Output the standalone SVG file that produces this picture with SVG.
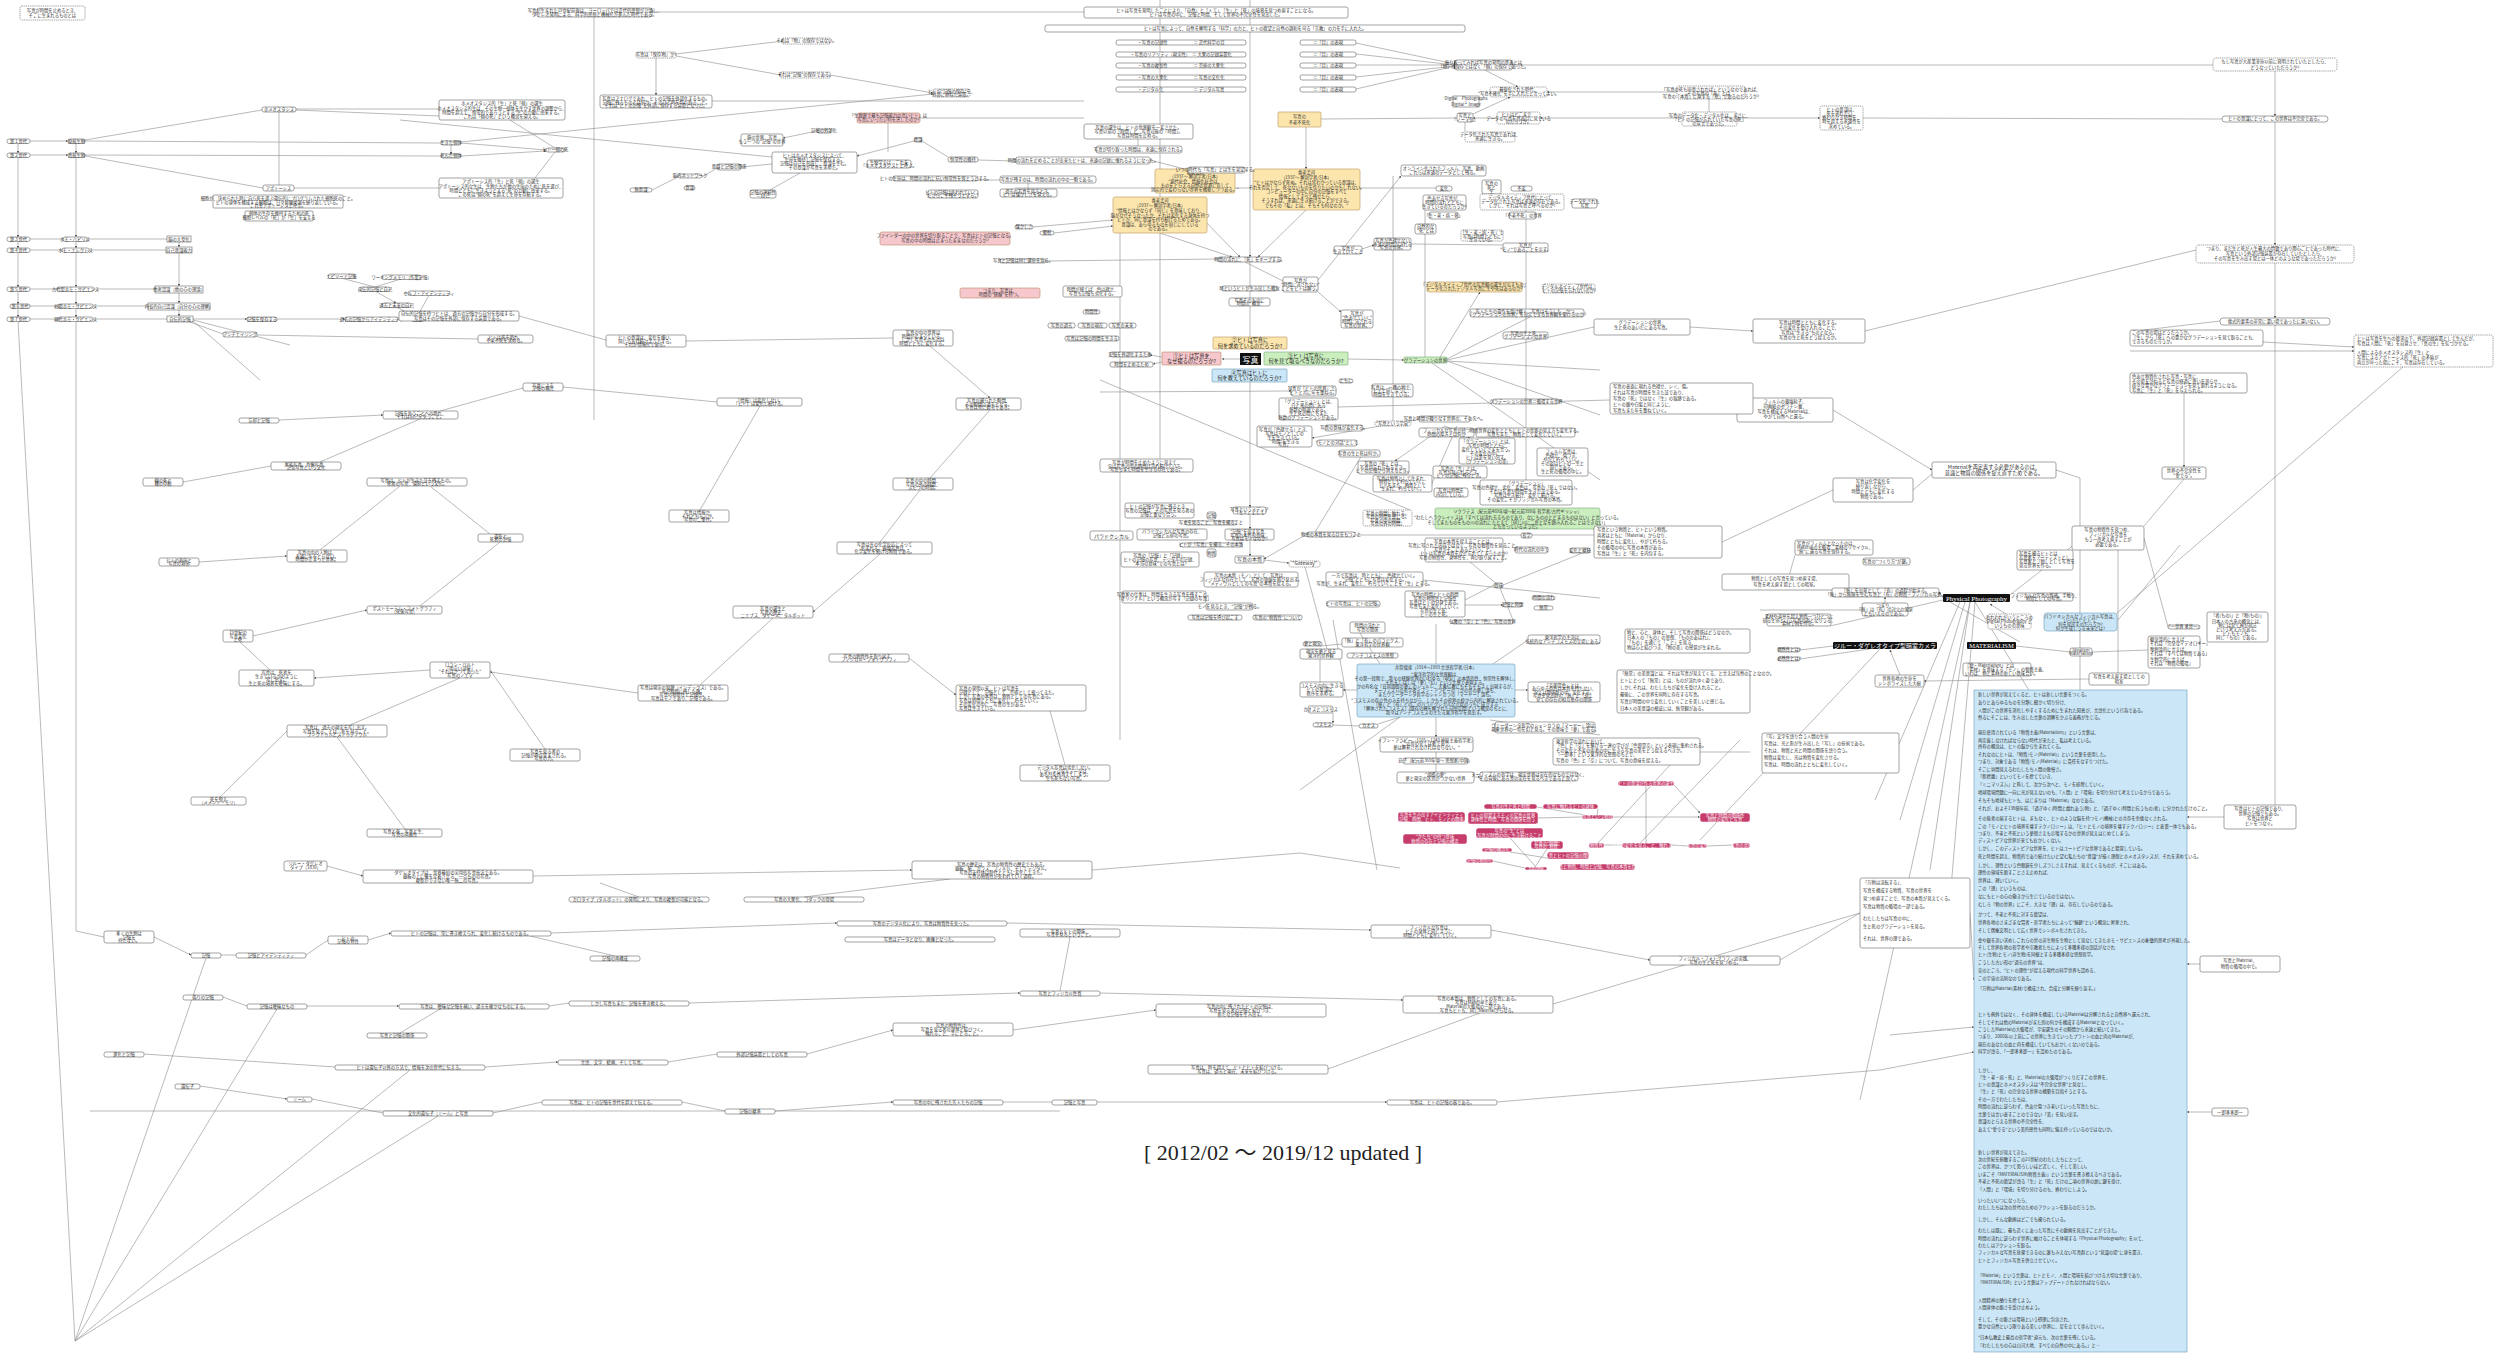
<svg xmlns="http://www.w3.org/2000/svg" width="2500" height="1361" viewBox="0 0 2500 1361">
<defs>
<marker id="a" viewBox="0 0 6 6" refX="5.5" refY="3" markerWidth="4" markerHeight="4" orient="auto"><path d="M0,0L6,3L0,6z" fill="#555"/></marker>
<style>
.b{fill:#fff;stroke:#666;stroke-width:.6}
.d{fill:#fff;stroke:#666;stroke-width:.6;stroke-dasharray:1.2 .7}
.pk{fill:#f6c8ce;stroke:#b86;stroke-width:.6}
.yl{fill:#fce6ad;stroke:#b9955a;stroke-width:.6}
.gr{fill:#cbeebf;stroke:#7a7;stroke-width:.6}
.bl{fill:#cbe7f7;stroke:#6c9bb8;stroke-width:.6}
.mg{fill:#c63d6c;stroke:#fff;stroke-width:.5}
.bk{fill:#111}
text{font-family:"Noto Sans CJK JP","Noto Sans",sans-serif;font-size:4.3px;fill:#333;text-anchor:middle}
.w{fill:#fff}
.big{font-family:"Liberation Serif","Noto Sans CJK JP",serif;font-size:8px;fill:#fff}
.q{font-size:5.2px;fill:#222}
.l{text-anchor:start}
#c line{stroke:#8c8c8c;stroke-width:.6;fill:none}
.ar{marker-end:url(#a)}
</style>
</defs>
<rect width="2500" height="1361" fill="#fff"/>

<g id="c">
<line x1="30" y1="141" x2="68" y2="141" class="ar"/><line x1="30" y1="155" x2="68" y2="155" class="ar"/>
<line x1="18" y1="143" x2="18" y2="153" class="ar"/><line x1="76" y1="143" x2="76" y2="153" class="ar"/>
<line x1="18" y1="157" x2="18" y2="237" class="ar"/><line x1="76" y1="157" x2="76" y2="237" class="ar"/>
<line x1="85" y1="141" x2="441" y2="143"/><line x1="85" y1="155" x2="441" y2="156"/>
<line x1="85" y1="140" x2="262" y2="110"/><line x1="85" y1="156" x2="263" y2="188"/>
<line x1="296" y1="109" x2="439" y2="109"/><line x1="296" y1="110" x2="439" y2="116"/><line x1="294" y1="188" x2="439" y2="188"/>
<line x1="279" y1="112" x2="279" y2="185"/>
<line x1="30" y1="239" x2="63" y2="239"/><line x1="87" y1="239" x2="167" y2="239"/>
<line x1="30" y1="250" x2="62" y2="250"/><line x1="89" y1="250" x2="166" y2="250"/>
<line x1="30" y1="289" x2="57" y2="289"/><line x1="94" y1="289" x2="155" y2="289"/>
<line x1="30" y1="306" x2="58" y2="306"/><line x1="93" y1="306" x2="148" y2="306"/>
<line x1="30" y1="319" x2="58" y2="319"/><line x1="93" y1="319" x2="167" y2="319"/>
<line x1="18" y1="241" x2="18" y2="248" class="ar"/><line x1="18" y1="252" x2="18" y2="287" class="ar"/><line x1="18" y1="291" x2="18" y2="304" class="ar"/><line x1="18" y1="308" x2="18" y2="317" class="ar"/>
<line x1="76" y1="241" x2="76" y2="248" class="ar"/><line x1="76" y1="252" x2="76" y2="287" class="ar"/><line x1="76" y1="291" x2="76" y2="304" class="ar"/><line x1="76" y1="308" x2="76" y2="317" class="ar"/>
<line x1="179" y1="242" x2="179" y2="247" class="ar"/><line x1="179" y1="253" x2="179" y2="286" class="ar"/><line x1="179" y1="293" x2="179" y2="303" class="ar"/><line x1="179" y1="310" x2="179" y2="316" class="ar"/>
<line x1="18" y1="321" x2="75" y2="1341"/><line x1="76" y1="321" x2="76" y2="931"/>
<line x1="193" y1="319" x2="247" y2="319" class="ar"/><line x1="277" y1="319" x2="345" y2="319" class="ar"/><line x1="398" y1="319" x2="411" y2="319" class="ar"/>
<line x1="341" y1="278" x2="375" y2="287"/><line x1="401" y1="279" x2="375" y2="287"/>
<line x1="375" y1="291" x2="396" y2="303" class="ar"/><line x1="396" y1="307" x2="417" y2="317" class="ar"/><line x1="429" y1="295" x2="417" y2="317"/>
<line x1="193" y1="320" x2="290" y2="345"/><line x1="190" y1="322" x2="223" y2="334"/><line x1="193" y1="321" x2="260" y2="380"/>
<line x1="461" y1="143" x2="546" y2="150" class="ar"/><line x1="461" y1="156" x2="546" y2="151" class="ar"/><line x1="451" y1="145" x2="451" y2="154" class="ar"/>
<line x1="510" y1="120" x2="555" y2="148"/><line x1="535" y1="178" x2="555" y2="152"/>
<line x1="461" y1="142" x2="933" y2="94" class="ar"/>
<line x1="400" y1="120" x2="772" y2="157"/>
<line x1="594" y1="16" x2="594" y2="420"/>
<line x1="652" y1="12" x2="1084" y2="12"/>
<line x1="676" y1="54" x2="783" y2="41" class="ar"/><line x1="676" y1="56" x2="781" y2="75" class="ar"/>
<line x1="656" y1="58" x2="656" y2="95" class="ar"/>
<line x1="830" y1="75" x2="933" y2="93" class="ar"/>
<line x1="712" y1="101" x2="1084" y2="101"/>
<line x1="920" y1="118" x2="1084" y2="118"/>
<line x1="888" y1="123" x2="888" y2="152"/>
<line x1="817" y1="131" x2="783" y2="138" class="ar"/>
<line x1="914" y1="141" x2="857" y2="156" class="ar"/><line x1="922" y1="141" x2="948" y2="157"/>
<line x1="800" y1="173" x2="770" y2="190"/><line x1="741" y1="167" x2="772" y2="164"/>
<line x1="702" y1="177" x2="717" y2="168"/><line x1="652" y1="190" x2="678" y2="177"/>
<line x1="978" y1="160" x2="1016" y2="161"/><line x1="978" y1="180" x2="1000" y2="180"/>
<line x1="1150" y1="160" x2="1188" y2="170"/><line x1="1138" y1="139" x2="1138" y2="146"/>
<line x1="1028" y1="189" x2="1028" y2="183"/>
<line x1="1033" y1="227" x2="1113" y2="220" class="ar"/><line x1="1054" y1="233" x2="1113" y2="226" class="ar"/>
<line x1="1046" y1="261" x2="1218" y2="259"/>
<line x1="1120" y1="233" x2="1120" y2="740"/>
<line x1="1195" y1="211" x2="1240" y2="257" class="ar"/><line x1="1306" y1="210" x2="1258" y2="257" class="ar"/><line x1="1160" y1="233" x2="1232" y2="257" class="ar"/>
<line x1="1306" y1="127" x2="1306" y2="169" class="ar"/>
<line x1="1250" y1="0" x2="1250" y2="257" class="ar"/><line x1="1250" y1="262" x2="1250" y2="286"/><line x1="1250" y1="291" x2="1250" y2="298"/><line x1="1250" y1="306" x2="1250" y2="337"/>
<line x1="1250" y1="382" x2="1250" y2="507" class="ar"/><line x1="1250" y1="514" x2="1250" y2="529" class="ar"/><line x1="1250" y1="540" x2="1250" y2="556" class="ar"/>
<line x1="1240" y1="359" x2="1222" y2="359" class="ar"/>
<line x1="1162" y1="357" x2="1150" y2="355" class="ar"/><line x1="1162" y1="362" x2="1153" y2="364" class="ar"/>
<line x1="1348" y1="359" x2="1404" y2="360" class="ar"/>
<line x1="1283" y1="281" x2="1245" y2="262"/>
<line x1="1318" y1="280" x2="1401" y2="176" class="ar"/><line x1="1318" y1="292" x2="1341" y2="312" class="ar"/>
<line x1="1362" y1="249" x2="1374" y2="245" class="ar"/><line x1="1411" y1="244" x2="1503" y2="245"/>
<line x1="1160" y1="0" x2="1160" y2="459"/>
<line x1="1356" y1="43" x2="1455" y2="64"/><line x1="1356" y1="54" x2="1455" y2="65"/><line x1="1356" y1="65" x2="1455" y2="65"/><line x1="1356" y1="77" x2="1455" y2="66"/><line x1="1356" y1="89" x2="1455" y2="66"/>
<line x1="1455" y1="61" x2="1455" y2="69" style="stroke:#111;stroke-width:1.6"/>
<line x1="1512" y1="65" x2="2213" y2="65"/>
<line x1="1483" y1="69" x2="1518" y2="87" class="ar"/>
<line x1="1677" y1="92" x2="1547" y2="92" class="ar"/><line x1="1709" y1="99" x2="1709" y2="112"/>
<line x1="1682" y1="118" x2="1540" y2="118" class="ar"/><line x1="1737" y1="118" x2="1820" y2="118" class="ar"/>
<line x1="1863" y1="118" x2="2222" y2="119"/>
<line x1="1497" y1="118" x2="1473" y2="118" class="ar"/><line x1="1473" y1="114" x2="1510" y2="97" class="ar"/>
<line x1="1321" y1="119" x2="1457" y2="118"/>
<line x1="1465" y1="122" x2="1465" y2="132"/>
<line x1="1393" y1="176" x2="1393" y2="421"/>
<line x1="1425" y1="210" x2="1425" y2="357"/>
<line x1="1526" y1="210" x2="1526" y2="480"/>
<line x1="1436" y1="188" x2="1015" y2="188"/>
<line x1="1447" y1="361" x2="1600" y2="370"/><line x1="1447" y1="359" x2="1530" y2="317"/>
<line x1="1440" y1="357" x2="1480" y2="292" class="ar"/><line x1="1432" y1="363" x2="1600" y2="480"/><line x1="1447" y1="361" x2="1600" y2="415"/>
<line x1="1447" y1="360" x2="1594" y2="327"/>
<line x1="1100" y1="380" x2="1410" y2="510"/>
<line x1="1100" y1="392" x2="1291" y2="391" class="ar"/>
<line x1="1338" y1="407" x2="1610" y2="400"/>
<line x1="1420" y1="419" x2="1312" y2="438" class="ar"/>
<line x1="1457" y1="426" x2="1430" y2="488" class="ar"/><line x1="1445" y1="426" x2="1395" y2="461" class="ar"/><line x1="1445" y1="426" x2="1470" y2="438" class="ar"/>
<line x1="1312" y1="537" x2="1365" y2="450"/><line x1="1307" y1="534" x2="1264" y2="559" class="ar"/>
<line x1="1355" y1="535" x2="1600" y2="535"/>
<line x1="1264" y1="560" x2="1289" y2="563" class="ar"/>
<line x1="1305" y1="567" x2="1330" y2="660"/>
<line x1="1494" y1="585" x2="1465" y2="600"/><line x1="1503" y1="585" x2="1590" y2="550"/><line x1="1500" y1="588" x2="1513" y2="620"/><line x1="1498" y1="585" x2="1470" y2="562"/>
<line x1="1423" y1="580" x2="1600" y2="598"/><line x1="1465" y1="605" x2="1503" y2="605" class="ar"/>
<line x1="1943" y1="598" x2="1939" y2="592" class="ar"/>
<line x1="1960" y1="602" x2="1875" y2="800"/><line x1="1965" y1="602" x2="1900" y2="820"/><line x1="1970" y1="602" x2="1930" y2="870"/><line x1="1975" y1="602" x2="1950" y2="900"/><line x1="1970" y1="602" x2="1860" y2="1100"/>
<line x1="1975" y1="602" x2="2030" y2="692"/>
<line x1="2010" y1="595" x2="2080" y2="540"/>
<line x1="2006" y1="614" x2="1990" y2="604" class="ar"/>
<line x1="1943" y1="600" x2="1830" y2="626"/><line x1="1950" y1="602" x2="2020" y2="642"/>
<line x1="1885" y1="603" x2="1885" y2="597" class="ar"/><line x1="1862" y1="610" x2="1760" y2="610"/>
<line x1="1833" y1="646" x2="1800" y2="650"/><line x1="1870" y1="649" x2="1800" y2="659"/>
<line x1="1900" y1="675" x2="1890" y2="650" class="ar"/>
<line x1="1880" y1="649" x2="1700" y2="840"/>
<line x1="2016" y1="646" x2="2070" y2="652"/><line x1="2092" y1="652" x2="2148" y2="650"/>
<line x1="2089" y1="679" x2="1924" y2="681" class="ar"/>
<line x1="2080" y1="631" x2="2080" y2="692" class="ar"/>
<line x1="2118" y1="673" x2="2118" y2="550"/><line x1="2080" y1="613" x2="2080" y2="478"/>
<line x1="2118" y1="620" x2="2180" y2="545"/>
<line x1="2184" y1="393" x2="2184" y2="467" class="ar"/><line x1="2184" y1="479" x2="2144" y2="526"/>
<line x1="2275" y1="71" x2="2275" y2="116" class="ar"/><line x1="2275" y1="122" x2="2275" y2="245" class="ar"/><line x1="2275" y1="263" x2="2275" y2="318" class="ar"/><line x1="2275" y1="325" x2="2275" y2="805"/>
<line x1="2263" y1="342" x2="2354" y2="347" class="ar"/><line x1="2130" y1="351" x2="2354" y2="351" class="ar"/>
<line x1="2403" y1="367" x2="2117" y2="613"/>
<line x1="2196" y1="250" x2="1865" y2="331"/>
<line x1="2220" y1="321" x2="2144" y2="330"/>
<line x1="1970" y1="913" x2="1974" y2="980" class="ar"/>
<line x1="1890" y1="1035" x2="1974" y2="1027" class="ar"/><line x1="1880" y1="1070" x2="1974" y2="1052" class="ar"/>
<line x1="1646" y1="786" x2="1646" y2="843"/><line x1="1674" y1="785" x2="1700" y2="813" class="ar"/><line x1="1613" y1="817" x2="1700" y2="817" class="ar"/>
<line x1="1598" y1="809" x2="1597" y2="815"/><line x1="1538" y1="818" x2="1582" y2="817"/><line x1="1537" y1="807" x2="1585" y2="815"/>
<line x1="1604" y1="845" x2="1622" y2="845"/><line x1="1671" y1="845" x2="1688" y2="846"/>
<line x1="1598" y1="843" x2="1670" y2="765"/><line x1="1640" y1="843" x2="1740" y2="740"/><line x1="1707" y1="846" x2="1733" y2="845"/>
<line x1="1510" y1="852" x2="1547" y2="858"/><line x1="1547" y1="849" x2="1535" y2="867"/><line x1="1510" y1="838" x2="1536" y2="867"/><line x1="1493" y1="861" x2="1525" y2="868"/>
<line x1="1400" y1="717" x2="1300" y2="790"/><line x1="1333" y1="620" x2="1377" y2="870"/><line x1="1300" y1="853" x2="1400" y2="868"/>
<line x1="1436" y1="717" x2="1436" y2="737" class="ar"/>
<line x1="1515" y1="690" x2="1528" y2="690" class="ar"/><line x1="1357" y1="690" x2="1343" y2="690" class="ar"/>
<line x1="1493" y1="664" x2="1528" y2="640"/><line x1="1436" y1="664" x2="1436" y2="624"/><line x1="1380" y1="664" x2="1360" y2="633"/>
<line x1="1490" y1="720" x2="1600" y2="735"/>
<line x1="1436" y1="752" x2="1436" y2="758"/><line x1="1436" y1="764" x2="1436" y2="772"/>
<line x1="1474" y1="777" x2="1480" y2="777" class="ar"/>
<line x1="1700" y1="752" x2="1750" y2="752"/>
<line x1="1333" y1="713" x2="1333" y2="723" class="ar"/><line x1="1333" y1="725" x2="1359" y2="726"/><line x1="1378" y1="724" x2="1400" y2="717"/>
<line x1="1320" y1="646" x2="1342" y2="644"/><line x1="1320" y1="659" x2="1320" y2="682"/>
<line x1="519" y1="316" x2="606" y2="340"/><line x1="478" y1="339" x2="257" y2="335"/>
<line x1="440" y1="411" x2="523" y2="388"/><line x1="279" y1="420" x2="383" y2="415" class="ar"/>
<line x1="320" y1="462" x2="420" y2="419"/><line x1="430" y1="486" x2="490" y2="534"/>
<line x1="320" y1="550" x2="400" y2="486"/><line x1="420" y1="606" x2="500" y2="542"/>
<line x1="253" y1="636" x2="367" y2="610" class="ar"/><line x1="270" y1="670" x2="240" y2="642"/>
<line x1="430" y1="670" x2="314" y2="678" class="ar"/><line x1="350" y1="725" x2="460" y2="678"/>
<line x1="545" y1="749" x2="490" y2="670"/><line x1="638" y1="693" x2="490" y2="672" class="ar"/>
<line x1="773" y1="618" x2="700" y2="685"/><line x1="880" y1="554" x2="813" y2="612" class="ar"/>
<line x1="920" y1="490" x2="880" y2="542"/><line x1="990" y1="410" x2="930" y2="478"/>
<line x1="930" y1="346" x2="990" y2="398" class="ar"/><line x1="686" y1="341" x2="893" y2="338"/>
<line x1="717" y1="402" x2="563" y2="387"/><line x1="700" y1="510" x2="760" y2="406"/>
<line x1="909" y1="658" x2="956" y2="695" class="ar"/><line x1="1065" y1="765" x2="1050" y2="711"/>
<line x1="199" y1="562" x2="287" y2="556" class="ar"/><line x1="183" y1="482" x2="271" y2="466"/>
<line x1="405" y1="829" x2="337" y2="737"/><line x1="220" y1="797" x2="287" y2="731"/>
<line x1="75" y1="1341" x2="206" y2="958"/><line x1="75" y1="1341" x2="277" y2="1009"/><line x1="75" y1="1341" x2="438" y2="1116"/><line x1="75" y1="1341" x2="410" y2="1070"/>
<line x1="76" y1="931" x2="104" y2="937"/><line x1="154" y1="937" x2="191" y2="955" class="ar"/>
<line x1="327" y1="866" x2="363" y2="876" class="ar"/><line x1="533" y1="876" x2="912" y2="870" class="ar"/>
<line x1="639" y1="897" x2="600" y2="883"/><line x1="804" y1="897" x2="950" y2="879"/>
<line x1="221" y1="955" x2="236" y2="955"/><line x1="306" y1="955" x2="328" y2="940"/><line x1="368" y1="940" x2="391" y2="933" class="ar"/>
<line x1="551" y1="933" x2="837" y2="923" class="ar"/><line x1="615" y1="956" x2="530" y2="936"/>
<line x1="223" y1="997" x2="247" y2="1006"/><line x1="307" y1="1006" x2="399" y2="1006" class="ar"/><line x1="549" y1="1006" x2="569" y2="1003"/>
<line x1="689" y1="1003" x2="1020" y2="993" class="ar"/><line x1="400" y1="1033" x2="440" y2="1009"/>
<line x1="144" y1="1054" x2="335" y2="1067"/><line x1="485" y1="1067" x2="558" y2="1062" class="ar"/><line x1="668" y1="1062" x2="717" y2="1054"/>
<line x1="807" y1="1054" x2="893" y2="1030" class="ar"/><line x1="1013" y1="1030" x2="1156" y2="1010" class="ar"/>
<line x1="200" y1="1086" x2="287" y2="1099" class="ar"/><line x1="312" y1="1099" x2="383" y2="1113"/>
<line x1="493" y1="1113" x2="542" y2="1102"/><line x1="682" y1="1102" x2="725" y2="1111"/><line x1="775" y1="1111" x2="893" y2="1102" class="ar"/>
<line x1="1003" y1="1102" x2="1052" y2="1102"/><line x1="1097" y1="1102" x2="1387" y2="1102" class="ar"/>
<line x1="90" y1="1111" x2="1060" y2="1111"/>
<line x1="1007" y1="923" x2="1371" y2="930" class="ar"/><line x1="1092" y1="870" x2="1300" y2="853"/>
<line x1="1070" y1="937" x2="1060" y2="991"/><line x1="1100" y1="993" x2="1403" y2="1000" class="ar"/>
<line x1="1328" y1="1069" x2="1480" y2="1013"/><line x1="1553" y1="1004" x2="1860" y2="913"/>
<line x1="1491" y1="930" x2="1650" y2="960" class="ar"/><line x1="1780" y1="960" x2="1860" y2="913"/>
<line x1="1497" y1="1102" x2="1880" y2="1070"/>
<line x1="1690" y1="327" x2="1753" y2="331" class="ar"/><line x1="1681" y1="398" x2="1737" y2="410"/>
<line x1="1833" y1="410" x2="1932" y2="470" class="ar"/><line x1="1722" y1="542" x2="1833" y2="490"/>
<line x1="1785" y1="590" x2="1795" y2="555"/><line x1="1913" y1="490" x2="1932" y2="474"/>
<line x1="2056" y1="470" x2="2080" y2="478"/><line x1="2144" y1="538" x2="2168" y2="627"/>
<line x1="2224" y1="817" x2="2187" y2="817" class="ar"/><line x1="2200" y1="964" x2="2187" y2="964" class="ar"/><line x1="2212" y1="1112" x2="2187" y2="1112" class="ar"/>
</g>

<g id="n_left">
<g id="L1a"><rect class="b" x="7" y="139" width="23" height="4.5" rx="2"/><text x="18.5" y="142.6">第１世代</text></g>
<g id="L1b"><rect class="b" x="7" y="153" width="23" height="4.5" rx="2"/><text x="18.5" y="156.6">第２世代</text></g>
<g id="L1c"><rect class="b" x="7" y="237" width="23" height="4.5" rx="2"/><text x="18.5" y="240.6">第３世代</text></g>
<g id="L1d"><rect class="b" x="7" y="248" width="23" height="4.5" rx="2"/><text x="18.5" y="251.6">第４世代</text></g>
<g id="L1e"><rect class="b" x="7" y="287" width="23" height="4.5" rx="2"/><text x="18.5" y="290.6">第５世代</text></g>
<g id="L1f"><rect class="b" x="10" y="304" width="20" height="4.5" rx="2"/><text x="20" y="307.6">第６世代</text></g>
<g id="L1g"><rect class="b" x="7" y="317" width="23" height="4.5" rx="2"/><text x="18.5" y="320.6">第７世代</text></g>
<g id="L2a"><rect class="b" x="68" y="139" width="17" height="4.5" rx="2"/><text x="76.5" y="142.6">原核生物</text></g>
<g id="L2b"><rect class="b" x="68" y="153" width="17" height="4.5" rx="2"/><text x="76.5" y="156.6">真核生物</text></g>
<g id="L2c"><rect class="b" x="63" y="237" width="24" height="4.5" rx="2"/><text x="75" y="240.6">ホモ・ハビリス</text></g>
<g id="L2d"><rect class="b" x="62" y="248" width="27" height="4.5" rx="2"/><text x="75.5" y="251.6">ホモ・エレクトス</text></g>
<g id="L2e"><rect class="b" x="57" y="287" width="37" height="4.5" rx="2"/><text x="75.5" y="290.6">古代型ホモ・サピエンス</text></g>
<g id="L2f"><rect class="b" x="58" y="304" width="35" height="4.5" rx="2"/><text x="75.5" y="307.6">初期ホモ・サピエンス</text></g>
<g id="L2g"><rect class="b" x="58" y="317" width="35" height="4.5" rx="2"/><text x="75.5" y="320.6">現代ホモ・サピエンス</text></g>
<g id="L3a"><rect class="b" x="167" y="236" width="24" height="6"/><text x="179" y="240.6">脳の大型化</text></g>
<g id="L3b"><rect class="b" x="166" y="247" width="26" height="6"/><text x="179" y="251.6">自己意識能力</text></g>
<g id="L3c"><rect class="b" x="155" y="286" width="48" height="7"/><text x="179" y="291">他者認識（他の心の理論）</text></g>
<g id="L3d"><rect class="b" x="148" y="303" width="62" height="7"/><text x="179" y="308">内省的自己認識（自分の心の理解）</text></g>
<g id="L3e"><rect class="b" x="167" y="316" width="26" height="6"/><text x="180" y="320.5">自伝的記憶</text></g>
<g id="L4"><rect class="b" x="247" y="317" width="30" height="4.5" rx="2"/><text x="262" y="320.6">記憶を保存する</text></g>
<g id="L5"><rect class="b" x="345" y="317" width="53" height="4.5" rx="2"/><text x="371.5" y="320.6">過去の記憶からアイデンティティ</text></g>
<g id="L6"><rect class="b" x="411" y="317" width="13" height="4.5" rx="2"/><text x="417.5" y="320.6">自我</text></g>
<g id="L7"><rect class="b" x="328" y="274" width="27" height="4.5" rx="2"/><text x="341.5" y="277.6">エピソード記憶</text></g>
<g id="L8"><rect class="b" x="382" y="275" width="39" height="4.5" rx="2"/><text x="401.5" y="278.6">ワーキングメモリ（作業記憶）</text></g>
<g id="L9"><rect class="b" x="360" y="287" width="30" height="4.5" rx="2"/><text x="375" y="290.6">自伝的記憶と自己</text></g>
<g id="L10"><rect class="b" x="382" y="303" width="29" height="4.5" rx="2"/><text x="396.5" y="306.6">過去と未来の自己</text></g>
<g id="L11"><rect class="b" x="408" y="291" width="42" height="4.5" rx="2"/><text x="429" y="294.6">セルフ・アイデンティティ</text></g>
<g id="Lh"><rect class="b" x="262" y="107" width="34" height="5" rx="2"/><text x="279" y="111">ホメオスタシス</text></g>
<g id="La"><rect class="b" x="263" y="185" width="31" height="6" rx="2"/><text x="278.5" y="189.6">アポトーシス</text></g>
<g id="Lat1"><rect class="b" x="213" y="195" width="130" height="13" rx="1"/><text x="278" y="199.5">細胞が、決められた時に自ら死を選ぶ遺伝的にプログラムされた細胞死のこと。</text><text x="278" y="203.5">ヒトの身体を構成する細胞は、日々新陳代謝を繰り返している。</text><text x="278" y="207">これをアポトーシスと呼ぶ。</text></g>
<g id="Lat2"><rect class="b" x="245" y="211" width="68" height="10" rx="1"/><text x="279" y="215.3">個体の生存を維持するための死</text><text x="279" y="219.3">細胞レベルの「死」が「生」を支える</text></g>
<g id="Ltl"><rect class="d" x="20" y="6" width="65" height="14" rx="2"/><text x="52.5" y="11.5">写真が時間を止めるとき、</text><text x="52.5" y="16.5">そこに生まれるものとは</text></g>
</g>

<g id="n_topleft">
<g id="T0"><rect class="b" x="537" y="8" width="115" height="9" rx="2"/><text x="594.5" y="12">写真が生まれた19世紀前後は、ヨーロッパでは近代的思想が台頭し、</text><text x="594.5" y="16">ダゲレオ発明による、科学的思想と機械化が進んだ時代である。</text></g>
<g id="T1"><rect class="b" x="439" y="100" width="126" height="20" rx="2"/><text x="502" y="105">ホメオスタシス的「生」と死「個」の誕生</text><text x="502" y="110">ホメオスタシス的生は、その生物一個体を生かす世界の調整から、</text><text x="502" y="114">時間を超えて、恒常的であろうとする"生"の力動に由来する。</text><text x="502" y="118">これは「個の死」という概念を迎える。</text></g>
<g id="T2"><rect class="b" x="439" y="178" width="124" height="20" rx="2"/><text x="501" y="183">アポトーシス的「生」と死「個」の誕生</text><text x="501" y="188">アポトーシス的な生は、生物たちが他の生命のために死を選び、</text><text x="501" y="192">時間とともに生きようとする"死"の力動に由来する。</text><text x="501" y="196">この死は"個の死"を超えて生命を存続する。</text></g>
<g id="T3"><rect class="b" x="441" y="141" width="20" height="4" rx="2"/><text x="451" y="144.2">生きた個体</text></g>
<g id="T4"><rect class="b" x="441" y="154" width="20" height="4" rx="2"/><text x="451" y="157.2">死んだ個体</text></g>
<g id="T5"><rect class="b" x="546" y="148" width="19" height="4" rx="2"/><text x="555.5" y="151.2">ヒト一個の死</text></g>
<g id="T6"><rect class="d" x="636" y="52" width="40" height="6" rx="2"/><text x="656" y="56.4">写真は「保存物」か?</text></g>
<g id="T7"><rect class="d" x="783" y="38" width="47" height="6"/><text x="806.5" y="42.4">それは「物」の保存ではない。</text></g>
<g id="T8"><rect class="d" x="781" y="72" width="49" height="6"/><text x="805.5" y="76.4">それは"記憶"の保存である。</text></g>
<g id="T9"><rect class="b" x="600" y="95" width="112" height="13" rx="2"/><text x="656" y="99.5">写真はアナログであれ、ヒトの記憶を外部化するもの。</text><text x="656" y="103.5">記憶に残るものとは何か、そのひと時を切り取ること。</text><text x="656" y="107">それは"ヒトの記憶"を外部に保存する装置となった。</text></g>
<g id="T10"><rect class="d" x="933" y="89" width="37" height="8" rx="2"/><text x="951.5" y="92.5">ヒトが"記憶の保存"を、</text><text x="951.5" y="96">外部に委ねた装置。</text></g>
<g id="T11"><rect class="pk" x="857" y="113" width="63" height="10" rx="2"/><text x="888.5" y="117.2">「生物界で最も記憶能力の高いヒト」は</text><text x="888.5" y="121.2">写真にいったい何を託したのか?</text></g>
<g id="T12"><rect class="b" x="817" y="129" width="14" height="4" rx="2"/><text x="824" y="132.2">記憶の外部化</text></g>
<g id="T13"><rect class="b" x="741" y="134" width="42" height="12" rx="2"/><text x="762" y="138.5">鏡の世界、写真</text><text x="762" y="142.5">もう一つの"記憶"の世界</text></g>
<g id="T14"><rect class="b" x="914" y="138" width="8" height="4" rx="2"/><text x="918" y="141.2">意識</text></g>
<g id="T15"><rect class="b" x="772" y="152" width="85" height="21" rx="2"/><text x="814.5" y="156.5">ヒトはホメオスタシスによって、</text><text x="814.5" y="160.5">生命を維持し記憶を保存する。</text><text x="814.5" y="164.5">記憶は自己を形成し、意識を生む。</text><text x="814.5" y="168.5">その意識が写真を求めた。</text></g>
<g id="T16"><rect class="b" x="867" y="160" width="44" height="8" rx="2"/><text x="889" y="163.5">生物学では、これを</text><text x="889" y="167">「ホメオスタシス」と呼ぶ。</text></g>
<g id="T17"><rect class="b" x="717" y="164" width="24" height="6" rx="2"/><text x="729" y="168.1">意識と記憶の関係</text></g>
<g id="T18"><rect class="b" x="948" y="157" width="30" height="5" rx="2"/><text x="963" y="160.6">恒常性の維持</text></g>
<g id="T19"><rect class="b" x="893" y="176" width="85" height="5" rx="2"/><text x="935.5" y="179.6">ヒトの生命は、時間の流れに抗い恒常性を保とうとする。</text></g>
<g id="T20"><rect class="b" x="750" y="190" width="26" height="8" rx="2"/><text x="763" y="193.5">記憶の連続性</text><text x="763" y="197">＝自己</text></g>
<g id="T21"><rect class="b" x="928" y="190" width="50" height="8" rx="2"/><text x="953" y="193.5">ヒトの記憶は失われていく。</text><text x="953" y="197">だからこそ残そうとする。</text></g>
<g id="T22"><rect class="b" x="678" y="174" width="24" height="4" rx="2"/><text x="690" y="177.2">脳内ネットワーク</text></g>
<g id="T23"><rect class="b" x="684" y="186" width="11" height="4" rx="2"/><text x="689.5" y="189.2">意識</text></g>
<g id="T24"><rect class="b" x="630" y="188" width="22" height="4" rx="2"/><text x="641" y="191.2">無意識</text></g>
</g>

<g id="n_center">
<g id="C1"><rect class="b" x="1084" y="7" width="264" height="11" rx="2"/><text x="1216" y="11.5">ヒトは写真を発明したことにより、「自然」と「人工」、「生」と「死」の境界を見つめ直すことになる。</text><text x="1216" y="16">ヒトは写真の中に、記憶と時間、そして世界の不完全性を見出した。</text></g>
<g id="C2"><rect class="b" x="1045" y="25" width="420" height="7" rx="2"/><text x="1255" y="29.8">ヒトは写真によって、自然を解明する「科学」の力と、ヒトの欲望と自然の調和を司る「宗教」の力を手に入れた。</text></g>
<g id="C3"><rect class="b" x="1116" y="40" width="130" height="5" rx="2"/><text x="1181" y="43.6">・写真の記録性　　　　　　＝ 近代科学の目</text></g>
<g id="C3b"><rect class="b" x="1300" y="40" width="56" height="5" rx="2"/><text x="1328" y="43.6">＝「目」の表現</text></g>
<g id="C4"><rect class="b" x="1116" y="52" width="130" height="5" rx="2"/><text x="1181" y="55.6">・写真のリアリティ（現実性）　＝ 大衆の記録装置化</text></g>
<g id="C4b"><rect class="b" x="1300" y="52" width="56" height="5" rx="2"/><text x="1328" y="55.6">＝「目」の表現</text></g>
<g id="C5"><rect class="b" x="1116" y="63" width="130" height="5" rx="2"/><text x="1181" y="66.6">・写真の複製性　　　　　　＝ 芸術の大衆化</text></g>
<g id="C5b"><rect class="b" x="1300" y="63" width="56" height="5" rx="2"/><text x="1328" y="66.6">＝「目」の表現</text></g>
<g id="C6"><rect class="b" x="1116" y="75" width="130" height="5" rx="2"/><text x="1181" y="78.6">・写真の大衆化　　　　　　＝ 写真の文化化</text></g>
<g id="C6b"><rect class="b" x="1300" y="75" width="56" height="5" rx="2"/><text x="1328" y="78.6">＝「目」の表現</text></g>
<g id="C7"><rect class="b" x="1116" y="87" width="130" height="5" rx="2"/><text x="1181" y="90.6">・デジタル化　　　　　　　＝ デジタル写真</text></g>
<g id="C7b"><rect class="b" x="1300" y="87" width="56" height="5" rx="2"/><text x="1328" y="90.6">＝「目」の表現</text></g>
<g id="C8"><rect class="b" x="1455" y="60" width="57" height="10" rx="2"/><text x="1483.5" y="64">振り返ってみれば写真の発明の意義とは</text><text x="1483.5" y="68.3">「物」の保存ではなく「個」の保存であった。</text></g>
<g id="C9"><rect class="d" x="1490" y="87" width="57" height="10" rx="2"/><text x="1518.5" y="91">最後化された時代、</text><text x="1518.5" y="95.3">"写真不確化"を手に入れたと言ってよい。</text></g>
<g id="C10"><rect class="b" x="1453" y="96" width="26" height="11"/><text x="1466" y="99.5">Digital　Photographs</text><text x="1466" y="102.6">↓</text><text x="1466" y="105.8">Digital　Image</text></g>
<g id="C11"><rect class="b" x="1457" y="113" width="16" height="9" rx="2"/><text x="1465" y="117">写真と</text><text x="1465" y="120.6">「ノーマ化」</text></g>
<g id="C12"><rect class="d" x="1497" y="112" width="43" height="12" rx="2"/><text x="1518.5" y="116">ヒトはどこまで、</text><text x="1518.5" y="119.5">データの写真を真面目に見ている</text><text x="1518.5" y="123">のだろうか。</text></g>
<g id="C13"><rect class="d" x="1677" y="86" width="68" height="13" rx="2"/><text x="1711" y="90.5">「写真の死も同意されれば」というなのであれば、</text><text x="1711" y="94.5">その写真の「死」とは、</text><text x="1711" y="98.3">写真の「本質」に直する「死」であるのだろうか?</text></g>
<g id="C14"><rect class="d" x="1682" y="112" width="55" height="14" rx="2"/><text x="1709.5" y="116.5">写真のデータ化・デジタル化は、まさに、</text><text x="1709.5" y="120.5">「ヒトの記憶が忘れていた写真の死」</text><text x="1709.5" y="124.5">の宣言であった。</text></g>
<g id="C15"><rect class="d" x="1820" y="106" width="43" height="24" rx="2"/><text x="1841.5" y="111">ヒトの意識は、</text><text x="1841.5" y="115">死を逃れたい、</text><text x="1841.5" y="119">終わりなき時間を、</text><text x="1841.5" y="123">時を超える永遠性を</text><text x="1841.5" y="127.5">求めている。</text></g>
<g id="C16"><rect class="b" x="1084" y="124" width="109" height="15" rx="2"/><text x="1138.5" y="129">写真の誕生は、ヒトの世界観を一変させた。</text><text x="1138.5" y="133">写真以前の「時間」と、写真以後の「時間」。</text><text x="1138.5" y="137">写真は時間を止める。</text></g>
<g id="C17"><rect class="b" x="1096" y="146" width="86" height="7" rx="2"/><text x="1139" y="150.6">写真が切り取った時間は、永遠に保存される。</text></g>
<g id="C18"><rect class="b" x="1016" y="157" width="134" height="7" rx="2"/><text x="1083" y="161.7">時間の流れを止めることが出来たヒトは、永遠の記録に憧れるようになった。</text></g>
<g id="C19"><rect class="b" x="1000" y="176" width="96" height="7" rx="2"/><text x="1048" y="180.7">写真が残すのは、時間の流れの中の一瞬である。</text></g>
<g id="C20"><rect class="b" x="1000" y="189" width="57" height="8" rx="2"/><text x="1028.5" y="192.5">過去の写真を見るとき、</text><text x="1028.5" y="196">ヒトは懐かしさを覚える。</text></g>
<g id="C21"><rect class="b" x="1015" y="225" width="18" height="4" rx="2"/><text x="1024" y="228.2">懐かしさ</text></g>
<g id="C22"><rect class="b" x="1040" y="231" width="14" height="4" rx="2"/><text x="1047" y="234.2">郷愁</text></g>
<g id="C23"><rect class="b" x="1000" y="259" width="46" height="4" rx="2"/><text x="1023" y="262.2">写真と記憶は同じ運命を辿る。</text></g>
<g id="C24"><rect class="b" x="1063" y="286" width="59" height="11" rx="2"/><text x="1092.5" y="290.5">時間が経てば、色は褪せ、</text><text x="1092.5" y="294.8">写真も記憶も劣化する。</text></g>
<g id="C25"><rect class="pk" x="960" y="288" width="80" height="10" rx="2"/><text x="1000" y="292">つまり、写真は、</text><text x="1000" y="296.3">時間の"経験"を持つ。</text></g>
<g id="C25b"><rect class="pk" x="880" y="232" width="130" height="13" rx="2"/><text x="945" y="237">ファインダーの中の世界を切り取ることで、写真はヒトの記憶となる。</text><text x="945" y="242">写真の中の時間は止まったままなのだろうか?</text></g>
<g id="C26"><rect class="b" x="1083" y="310" width="17" height="4" rx="2"/><text x="1091.5" y="313.2">時間性</text></g>
<g id="C27"><rect class="b" x="1048" y="323" width="27" height="5" rx="2"/><text x="1061.5" y="326.6">写真の過去</text></g>
<g id="C28"><rect class="b" x="1078" y="323" width="29" height="5" rx="2"/><text x="1092.5" y="326.6">写真の現在</text></g>
<g id="C29"><rect class="b" x="1109" y="323" width="27" height="5" rx="2"/><text x="1122.5" y="326.6">写真の未来</text></g>
<g id="C30"><rect class="b" x="1065" y="336" width="54" height="5" rx="2"/><text x="1092" y="339.6">写真は記憶の時間を生きる</text></g>
<g id="C32"><rect class="b" x="1110" y="352" width="40" height="5" rx="2"/><text x="1130" y="355.6">記憶を外部化するため</text></g>
<g id="C33"><rect class="b" x="1110" y="362" width="43" height="5" rx="2"/><text x="1131.5" y="365.6">時間を止めるため</text></g>
<g id="Y1"><rect class="yl" x="1155" y="169" width="80" height="24" rx="2"/><text x="1195" y="173.5">養老孟司</text><text x="1195" y="177.5">（1937〜 解剖学者/日本）</text><text x="1195" y="182.5">"現代社会、情報化社会は、</text><text x="1195" y="186.5">ものをとらえる自然の世界に反して</text><text x="1195" y="190.5">固定的で変わらない世界を構築しつつある。"</text></g>
<g id="Y2"><rect class="yl" x="1113" y="197" width="94" height="36" rx="2"/><text x="1160" y="202">養老孟司</text><text x="1160" y="206.5">（1937〜 解剖学者/日本）</text><text x="1160" y="212">"情報とはかならず「同じ」を意味しており、</text><text x="1160" y="216.5">脳がなぜそうなったか、それは変化する身体を持つ</text><text x="1160" y="221">ヒトが、同じ意識を持ち続けるためである。</text><text x="1160" y="225.5">意識は、あらゆるものを同じにしている</text><text x="1160" y="230">のである。"</text></g>
<g id="Y3"><rect class="yl" x="1253" y="169" width="107" height="41" rx="2"/><text x="1306.5" y="174">養老孟司</text><text x="1306.5" y="178.5">（1937〜 解剖学者/日本）</text><text x="1306.5" y="184">"ヒトはかならず死ぬ。それは皆わかっている意識は、</text><text x="1306.5" y="188.5">それを否定して、死なないものを作りたいのかもしれない。</text><text x="1306.5" y="193">コンピューターの中に自分の記憶をすべて</text><text x="1306.5" y="197.5">情報としてすべて残せたら、</text><text x="1306.5" y="202">そうすれば、永遠に生き続けることができる。</text><text x="1306.5" y="206.5">でもその「私」とは、そもそも何なのか。"</text></g>
<g id="Y4"><rect class="yl" x="1278" y="112" width="43" height="15" rx="1"/><text x="1299.5" y="118">写真の</text><text x="1299.5" y="124">不老不死化</text></g>
<g id="C34"><rect class="b" x="1188" y="167" width="57" height="6" rx="2"/><text x="1216.5" y="171">いつの時代も「写真」とは生を渇望する。</text></g>
<g id="C35"><rect class="b" x="1218" y="257" width="63" height="5" rx="2"/><text x="1249.5" y="260.6">時間の流れに、「死」をキープする。</text></g>
<g id="C36"><rect class="b" x="1222" y="286" width="55" height="5" rx="2"/><text x="1249.5" y="289.6">時というヒトが生み出した概念</text></g>
<g id="C37"><rect class="b" x="1229" y="298" width="41" height="8" rx="2"/><text x="1249.5" y="301.5">写真そのものに</text><text x="1249.5" y="305">時間の"概念"</text></g>
<g id="C38"><rect class="b" x="1283" y="277" width="35" height="15" rx="2"/><text x="1300.5" y="281.5">写真が</text><text x="1300.5" y="285.5">"時間に流されない"</text><text x="1300.5" y="289.5">ことをヒトは願う。</text></g>
<g id="C39"><rect class="b" x="1334" y="246" width="28" height="8" rx="2"/><text x="1348" y="249.5">写真が</text><text x="1348" y="253">生きていくこと</text></g>
<g id="C40"><rect class="b" x="1374" y="238" width="37" height="12" rx="2"/><text x="1392.5" y="242">写真が色褪せない</text><text x="1392.5" y="245.5">永遠の時間が流れる</text><text x="1392.5" y="249">写真の世界。</text></g>
<g id="C41"><rect class="b" x="1341" y="310" width="32" height="18" rx="2"/><text x="1357" y="314.5">写真が</text><text x="1357" y="318.5">"色あせていく"</text><text x="1357" y="322.5">時間に流される</text><text x="1357" y="326.5">写真の世界。</text></g>
<g id="C42"><rect class="b" x="1401" y="165" width="85" height="11" rx="2"/><text x="1443.5" y="169.5">オンライン化されたフィルム、写真、動画</text><text x="1443.5" y="174">これらは永遠のデータとして残る。</text></g>
<g id="C43"><rect class="d" x="1465" y="132" width="50" height="10" rx="2"/><text x="1490" y="136">データ化された写真であれば、</text><text x="1490" y="140">永遠に生きる。</text></g>
<g id="C45"><rect class="b" x="1436" y="186" width="16" height="5" rx="2"/><text x="1444" y="189.6">変化</text></g>
<g id="C46"><rect class="b" x="1482" y="180" width="19" height="14" rx="2"/><text x="1491.5" y="184.5">写真の</text><text x="1491.5" y="188.5">死と</text><text x="1491.5" y="192.5">生</text></g>
<g id="C47"><rect class="b" x="1511" y="186" width="21" height="5" rx="2"/><text x="1521.5" y="189.6">不変</text></g>
<g id="C48"><rect class="b" x="1423" y="195" width="43" height="15" rx="2"/><text x="1444.5" y="199.5">色あせる写真が、</text><text x="1444.5" y="203.5">時間の流れとともに</text><text x="1444.5" y="207.5">生きているのだろうか?</text></g>
<g id="C49"><rect class="d" x="1480" y="194" width="84" height="16" rx="2"/><text x="1522" y="198.5">デジタルネイティブ世代にとって、</text><text x="1522" y="202.5">データ化された写真は永遠の存在である。</text><text x="1522" y="206.5">しかし、それは写真と呼べるのか?</text></g>
<g id="C50"><rect class="b" x="1572" y="199" width="25" height="9" rx="2"/><text x="1584.5" y="202.7">データ化された</text><text x="1584.5" y="206.5">写真</text></g>
<g id="C51"><rect class="b" x="1429" y="212" width="29" height="7" rx="2"/><text x="1443.5" y="216.5">「生・老・病・死」</text></g>
<g id="C52"><rect class="b" x="1509" y="212" width="27" height="7" rx="2"/><text x="1522.5" y="216.5">「不老不死」の世界</text></g>
<g id="C53"><rect class="b" x="1415" y="224" width="21" height="10" rx="2"/><text x="1425.5" y="228">自然的な</text><text x="1425.5" y="232">"死"とは</text></g>
<g id="C54"><rect class="d" x="1461" y="230" width="42" height="11" rx="2"/><text x="1482" y="234">「生・老・病・死」で</text><text x="1482" y="237.5">写真は時間とともに</text><text x="1482" y="240.5">生きている。</text></g>
<g id="C55"><rect class="b" x="1503" y="243" width="45" height="9" rx="2"/><text x="1525.5" y="247">写真が</text><text x="1525.5" y="250.8">"モノ"であることを示す。</text></g>
<g id="Y5"><rect class="yl" x="1427" y="282" width="95" height="10" rx="2"/><text x="1474.5" y="286">『デジタルネイティブ世代の写真観の誕生が示すもの』</text><text x="1474.5" y="290.2">データ化されたデジタル写真に生や死はあるのか?</text></g>
<g id="C56"><rect class="d" x="1543" y="284" width="52" height="9" rx="2"/><text x="1569" y="288">デジタルネイティブ世代は、</text><text x="1569" y="291.8">ヒトの記憶を忘れないのか?</text></g>
<g id="C57"><rect class="b" x="1470" y="309" width="114" height="8" rx="2"/><text x="1527" y="312.5">先人たちの遺作を受け継ぐ、写真はそうした、かつ、</text><text x="1527" y="316">『グラデーションの世界』を肯定できる世界観を築けるのか?</text></g>
<g id="C58"><rect class="b" x="1503" y="332" width="45" height="7" rx="2"/><text x="1525.5" y="335">写真の生と死、</text><text x="1525.5" y="338.3">グラデーションの世界</text></g>
</g>

<g id="n_core">
<g id="Q2"><rect class="yl" x="1213" y="337" width="74" height="12" rx="1"/><text class="q" x="1250" y="342">②ヒトは写真に</text><text class="q" x="1250" y="347.5">何を求めているのだろうか?</text></g>
<g id="Q1"><rect class="pk" x="1162" y="352" width="59" height="13" rx="1"/><text class="q" x="1191.5" y="357.5">①ヒトは写真を</text><text class="q" x="1191.5" y="363">なぜ撮るのだろうか?</text></g>
<g id="PH"><rect class="bk" x="1240" y="353" width="21" height="12"/><text class="big" x="1250.5" y="362.5">写真</text></g>
<g id="Q3"><rect class="gr" x="1264" y="352" width="84" height="13" rx="1"/><text class="q" x="1306" y="357.5">③ヒトは写真に</text><text class="q" x="1306" y="363">何を見て取るべきなのだろうか?</text></g>
<g id="Q4"><rect class="bl" x="1212" y="369" width="75" height="13" rx="1"/><text class="q" x="1249.5" y="374.5">④写真はヒトに</text><text class="q" x="1249.5" y="380">何を教えているのだろうか?</text></g>
<g id="G1"><rect class="gr" x="1404" y="357" width="43" height="6" rx="1"/><text x="1425.5" y="361.5">グラデーションの世界</text></g>
<g id="M1"><rect class="b" x="1339" y="379" width="14" height="4" rx="2"/><text x="1346" y="382.2">ともに</text></g>
<g id="M2"><rect class="b" x="1291" y="386" width="45" height="10" rx="2"/><text x="1313.5" y="390">写真が「ヒトの世界」で、</text><text x="1313.5" y="394">ヒトと共に年を重ねる。</text></g>
<g id="M3"><rect class="b" x="1372" y="384" width="41" height="13" rx="2"/><text x="1392.5" y="388.5">写真は、一種の物で、</text><text x="1392.5" y="392">ヒトと同じように、</text><text x="1392.5" y="395.5">時間を生きている。</text></g>
<g id="M4"><rect class="b" x="1279" y="398" width="59" height="22" rx="2"/><text x="1308.5" y="402.5">「グラデーション」とは、</text><text x="1308.5" y="406.5">白と黒の間にある</text><text x="1308.5" y="410.5">無数の階調である。</text><text x="1308.5" y="414.5">生と死の間にもまた</text><text x="1308.5" y="418.5">無数のグラデーションがある。</text></g>
<g id="M5"><rect class="b" x="1493" y="399" width="66" height="5" rx="2"/><text x="1526" y="402.6">グラデーションの世界＝循環する世界</text></g>
<g id="M6"><rect class="b" x="1419" y="416" width="51" height="6" rx="2"/><text x="1444.5" y="420">写真と時間が織りなす世界の、その先へ。</text></g>
<g id="M7"><rect class="d" x="1375" y="421" width="36" height="5" rx="2"/><text x="1393" y="424.6">"写真という宇宙"</text></g>
<g id="M8"><rect class="b" x="1257" y="426" width="55" height="21" rx="2"/><text x="1284.5" y="430.5">写真が「色褪せる」とき、</text><text x="1284.5" y="434.5">写真はモノとしての</text><text x="1284.5" y="438.5">生を生きている。</text><text x="1284.5" y="442.5">"時間"を生きる</text><text x="1284.5" y="446">写真。</text></g>
<g id="M9"><rect class="b" x="1325" y="425" width="38" height="6" rx="2"/><text x="1344" y="429">写真の意味が変化する。</text></g>
<g id="M10"><rect class="b" x="1317" y="440" width="40" height="6" rx="2"/><text x="1337" y="444">"モノとの対話"として</text></g>
<g id="M11"><rect class="b" x="1419" y="428" width="55" height="9" rx="2"/><text x="1446.5" y="432">フィジカルな写真が持つ</text><text x="1446.5" y="435.6">時間の厚みとは何か</text></g>
<g id="M12"><rect class="b" x="1476" y="428" width="99" height="9" rx="2"/><text x="1525.5" y="432">物質世界の変化とともにヒトの世界の見え方も変化する。</text><text x="1525.5" y="435.6">写真もまた、物質として変化していく。</text></g>
<g id="M13"><rect class="b" x="1459" y="438" width="56" height="26" rx="2"/><text x="1487" y="442.5">「グラデーション」とは、</text><text x="1487" y="446.5">写真が時間とともに</text><text x="1487" y="450.5">変化していくさまを言う。</text><text x="1487" y="454.5">その変化の中に、</text><text x="1487" y="458.5">ヒトは美を見い出す。</text><text x="1487" y="462.5">（グラデーションの美）</text></g>
<g id="M14"><rect class="b" x="1537" y="448" width="51" height="28" rx="2"/><text x="1562.5" y="452.5">フィルム写真は、</text><text x="1562.5" y="456.5">色褪せ、傷つき、</text><text x="1562.5" y="460.5">やがて朽ちていく。</text><text x="1562.5" y="464.5">その姿はヒトの一生と</text><text x="1562.5" y="468.5">同じである。</text><text x="1562.5" y="472.5">生と死の循環の中に。</text></g>
<g id="M15"><rect class="b" x="1339" y="450" width="41" height="7" rx="2"/><text x="1359.5" y="454.6">写真の生と死は何か。</text></g>
<g id="M16"><rect class="b" x="1358" y="461" width="51" height="13" rx="2"/><text x="1383.5" y="465">写真の「死」とは、</text><text x="1383.5" y="468.5">写真が忘れられるとき。</text><text x="1383.5" y="472">ヒトの記憶から消えるとき。</text></g>
<g id="M17"><rect class="b" x="1433" y="466" width="54" height="12" rx="2"/><text x="1460" y="470">写真の「生」とは、</text><text x="1460" y="473.5">写真が見られるとき。</text><text x="1460" y="477">ヒトの記憶に残るとき。</text></g>
<g id="M18"><rect class="b" x="1373" y="475" width="59" height="17" rx="2"/><text x="1402.5" y="479.5">写真は物質として生まれ、</text><text x="1402.5" y="483">物質として朽ちていく。</text><text x="1402.5" y="486.5">ヒトもまた、物質として</text><text x="1402.5" y="490">生まれ、朽ちていく。</text></g>
<g id="M19"><rect class="b" x="1434" y="488" width="34" height="9" rx="2"/><text x="1451" y="492">写真は時間を</text><text x="1451" y="495.6">内包している。</text></g>
<g id="M20"><rect class="b" x="1480" y="480" width="92" height="25" rx="2"/><text x="1526" y="484.5">「グラデーション」</text><text x="1526" y="488.5">写真の色褪せ、劣化、変色は、写真の「死」ではない。</text><text x="1526" y="492.5">それは写真が時間を生きた証である。</text><text x="1526" y="496.5">写真は生き続け、変化し続ける。</text><text x="1526" y="500.5">その変化こそがフィジカル写真の本質。</text></g>
<g id="M21"><rect class="d" x="1363" y="510" width="49" height="16" rx="2"/><text x="1387.5" y="514.5">写真の時間に触れる。</text><text x="1387.5" y="518">写真の時間を感じる。</text><text x="1387.5" y="521.5">写真の中の時間、</text><text x="1387.5" y="525">写真の外の時間。</text></g>
<g id="G2"><rect class="gr" x="1435" y="508" width="165" height="21" rx="2"/><text x="1517.5" y="513">ソクラテス（紀元前469年頃〜紀元前399年 哲学者/古代ギリシャ）</text><text x="1517.5" y="519">"わたしヘラクレイトスは「すべては流れ去るものであり、なにもののとどまるものはない」と言っている。</text><text x="1517.5" y="523.5">そしてまたものをもの川の流れにたとえて「同じ川に二度と足を踏み入れることはできない」</text><text x="1517.5" y="527.5">とも言っているようだ。"</text></g>
<g id="M22"><rect class="b" x="1307" y="532" width="48" height="5" rx="2"/><text x="1331" y="535.6">物語の本質を見る目をもつこと</text></g>
<g id="M23"><rect class="b" x="1521" y="533" width="11" height="5" rx="2"/><text x="1526.5" y="536.6">哲学</text></g>
<g id="M24"><rect class="b" x="1425" y="538" width="78" height="24" rx="2"/><text x="1464" y="542.5">写真の本質を捉えることとは、</text><text x="1464" y="546.5">写真に写された内容ではなく、写真の物質性を見ること。</text><text x="1464" y="550.5">写真がそこにあるということ。</text><text x="1464" y="555">ヒトは写真の本質をなぜ忘れてしまったのか?</text><text x="1464" y="559">写真の物質性、身体性を、再び取り戻すこと。</text></g>
<g id="M25"><rect class="b" x="1515" y="547" width="33" height="6" rx="2"/><text x="1531.5" y="551">時代の流れの中で</text></g>
<g id="M26"><rect class="b" x="1570" y="548" width="20" height="5" rx="2"/><text x="1580" y="551.6">変化と継続</text></g>
<g id="M27"><rect class="b" x="1233" y="507" width="33" height="7" rx="2"/><text x="1249.5" y="510.5">写真というメディア</text><text x="1249.5" y="513.5">「モノ」として</text></g>
<g id="M28"><rect class="b" x="1225" y="529" width="49" height="11" rx="2"/><text x="1249.5" y="533">"記憶"を宿す写真、</text><text x="1249.5" y="536.5">写真の本質的意味、</text><text x="1249.5" y="539.5">写真はモノなのか?</text></g>
<g id="M29"><rect class="b" x="1180" y="543" width="62" height="4" rx="2"/><text x="1211" y="546.2">ヒトが「写真」を撮る、その本質</text></g>
<g id="M30"><rect class="b" x="1235" y="556" width="29" height="7" rx="1"/><text x="1249.5" y="561" style="font-size:5px">写真の本質</text></g>
<g id="M31"><rect class="d" x="1289" y="561" width="31" height="6" rx="2"/><text x="1304.5" y="565.3" style="font-size:5px">"Gateway"</text></g>
<g id="M32"><rect class="b" x="1494" y="583" width="9" height="5" rx="2"/><text x="1498.5" y="586.6">意味</text></g>
<g id="M33"><rect class="b" x="1100" y="459" width="93" height="13" rx="2"/><text x="1146.5" y="463.5">写真が時間を止めたように見えて、</text><text x="1146.5" y="467.5">実は写真の中の時間は流れ続けている。</text><text x="1146.5" y="471">写真もまた時間を生きる存在である。</text></g>
<g id="M34"><rect class="b" x="1125" y="503" width="69" height="15" rx="2"/><text x="1159.5" y="507.5">ヒトの記憶が写真に残るとき、</text><text x="1159.5" y="511.5">写真の記憶は、その写真を見る者の</text><text x="1159.5" y="515.5">記憶と重なり合う。</text></g>
<g id="M35"><rect class="b" x="1207" y="512" width="9" height="7" rx="2"/><text x="1211.5" y="516.8">記憶</text></g>
<g id="M36"><rect class="b" x="1185" y="521" width="52" height="4" rx="2"/><text x="1211" y="524.2">写真を見ること、写真を撮ること</text></g>
<g id="M37"><rect class="b" x="1137" y="529" width="70" height="11" rx="2"/><text x="1172" y="533">パラドクシカルな写真の存在、</text><text x="1172" y="537">記憶と忘却の写真。</text></g>
<g id="M38"><rect class="b" x="1090" y="531" width="43" height="9" rx="2"/><text x="1111.5" y="537.5" style="font-size:5px">パラドクシカル</text></g>
<g id="M39"><rect class="b" x="1207" y="549" width="9" height="8" rx="2"/><text x="1211.5" y="554.5">物質</text></g>
<g id="M40"><rect class="b" x="1121" y="552" width="78" height="15" rx="2"/><text x="1160" y="556.5">写真の「記憶」と「記録」、</text><text x="1160" y="560.5">ヒトの記憶の写真、デジタルの記録、</text><text x="1160" y="564.5">"本当の意味"での写真とは?</text></g>
<g id="M41"><rect class="b" x="1204" y="572" width="94" height="15" rx="2"/><text x="1251" y="576.5">写真の本質（モノ）として、写真は、</text><text x="1251" y="580.5">フィジカルな存在として、写真の価値を再び見出す。</text><text x="1251" y="584.5">"メディウムとしての写真"の本質を捉える。</text></g>
<g id="M42"><rect class="b" x="1326" y="572" width="97" height="15" rx="2"/><text x="1374.5" y="576.5">一方で写真は、時とともに、色褪せていく。</text><text x="1374.5" y="580.5">"記憶"とともに写真は変化する。</text><text x="1374.5" y="584.5">写真が、生まれ、変化し、朽ちていくことを「生」とする。</text></g>
<g id="M43"><rect class="b" x="1122" y="591" width="84" height="12" rx="2"/><text x="1164" y="595.5">写真家の仕事は、時間を生きる写真を残すこと。</text><text x="1164" y="599.5">「オリジナル」という概念が写す「記録の写真」</text></g>
<g id="M44"><rect class="b" x="1327" y="601" width="53" height="6" rx="2"/><text x="1353.5" y="605">ヒトの写真は、ヒトの記憶。</text></g>
<g id="M45"><rect class="b" x="1405" y="591" width="60" height="26" rx="2"/><text x="1435" y="595.5">写真の時間とヒトの時間</text><text x="1435" y="599.5">写真の物質性と記憶性</text><text x="1435" y="603.5">写真はヒトの分身である。</text><text x="1435" y="607.5">写真もまた変化していく。</text><text x="1435" y="611.5">写真の生と死、</text><text x="1435" y="615.5">ヒトの生と死。</text></g>
<g id="M46"><rect class="b" x="1206" y="603" width="47" height="7" rx="2"/><text x="1229.5" y="607.5">モノを見るとき、"記憶"が甦る。</text></g>
<g id="M47"><rect class="b" x="1253" y="615" width="49" height="5" rx="2"/><text x="1277.5" y="618.6">写真の"物質性"について</text></g>
<g id="M48"><rect class="b" x="1188" y="615" width="54" height="5" rx="2"/><text x="1215" y="618.6">写真は記憶を呼び起こす</text></g>
<g id="M49"><rect class="b" x="1503" y="603" width="19" height="4" rx="2"/><text x="1512.5" y="606.2">記憶と時間</text></g>
<g id="M50"><rect class="b" x="1532" y="596" width="23" height="4" rx="2"/><text x="1543.5" y="599.2">時間の流れ</text></g>
<g id="M51"><rect class="b" x="1534" y="606" width="19" height="4" rx="2"/><text x="1543.5" y="609.2">無常</text></g>
<g id="Z1"><rect class="b" x="1350" y="622" width="35" height="11" rx="2"/><text x="1367.5" y="626.5">時間の流れと</text><text x="1367.5" y="630.5">写真の関係</text></g>
<g id="Z2"><rect class="b" x="1342" y="638" width="61" height="9" rx="2"/><text x="1372.5" y="642">「無」と「有」のパラドクス、</text><text x="1372.5" y="645.6">東洋哲学の世界観</text></g>
<g id="Z3"><rect class="b" x="1303" y="642" width="19" height="4" rx="2"/><text x="1312.5" y="645.2">夢と現実</text></g>
<g id="Z4"><rect class="b" x="1300" y="649" width="42" height="10" rx="2"/><text x="1321" y="653">現実を夢と見る</text><text x="1321" y="657">東洋的世界観</text></g>
<g id="Z5"><rect class="b" x="1347" y="653" width="51" height="5" rx="2"/><text x="1372.5" y="656.6">アンチコスモスの思想</text></g>
<g id="Z6"><rect class="b" x="1452" y="620" width="61" height="4" rx="2"/><text x="1482.5" y="623.2">仏教の「空」と「色」、写真の世界</text></g>
<g id="Z7"><rect class="b" x="1300" y="682" width="43" height="15" rx="2"/><text x="1321.5" y="686.5">コスモスの中に生きる</text><text x="1321.5" y="690.5">ヒトの意識は、</text><text x="1321.5" y="694.5">秩序を求める。</text></g>
<g id="Z8"><rect class="b" x="1308" y="706" width="25" height="7" rx="2"/><text x="1320.5" y="710.5">カオスとコスモス</text></g>
<g id="Z9"><rect class="b" x="1313" y="723" width="20" height="4" rx="2"/><text x="1323" y="726.2">コスモス</text></g>
<g id="Z10"><rect class="b" x="1359" y="724" width="19" height="4" rx="2"/><text x="1368.5" y="727.2">カオス</text></g>
</g>

<g id="n_right">
<g id="R1"><rect class="d" x="2213" y="58" width="124" height="13" rx="3"/><text x="2275" y="63">もし写真が大産業革命以前に発明されていたとしたら、</text><text x="2275" y="68.5">どうなっていただろうか?</text></g>
<g id="R2"><rect class="b" x="2222" y="116" width="106" height="6" rx="3"/><text x="2275" y="120.3">ヒトの意識にとって、この世界は不完全である。</text></g>
<g id="R3"><rect class="d" x="2196" y="245" width="158" height="18" rx="3"/><text x="2275" y="250">つまり、まだ生と死が人生最大の問題であり関心ごとであった時代に、</text><text x="2275" y="255">写真という外部記憶装置が存在していたとしたら、</text><text x="2275" y="260">その写真を生み出す場とは一体どのような場であっただろうか?</text></g>
<g id="R4"><rect class="b" x="2220" y="318" width="110" height="7" rx="3"/><text x="2275" y="322.6">儀式的要素の非常に濃い場であったに違いない。</text></g>
<g id="R5"><rect class="d" x="2354" y="335" width="139" height="32" rx="2"/><text class="l" x="2357" y="340">ヒトは写真を生への欲求の下、外部記録装置として生んだが、</text><text class="l" x="2357" y="345">写真は人間に「死」を自覚させ、「真の生」を気づかせる。</text><text class="l" x="2357" y="354">人間によるホメオスタシス的「生」と</text><text class="l" x="2357" y="359">写真によるアポトーシス的「死」の矛盾が</text><text class="l" x="2357" y="364">両立が叶った場にこそ、写真は存在している。</text></g>
<g id="R6"><rect class="b" x="2130" y="330" width="133" height="16" rx="2"/><text class="l" x="2132" y="334">この写真の場はどうだろうか。</text><text class="l" x="2132" y="338.5">「生」から「死」への豊かなグラデーションを見て取ることも、</text><text class="l" x="2132" y="343">できるものだろうか。</text></g>
<g id="R7"><rect class="b" x="2130" y="373" width="117" height="20" rx="2"/><text class="l" x="2132" y="378">色あせ物質化された写真・写真に、</text><text class="l" x="2132" y="382.5">その場を訪ねると写真の経過に思いを巡らせ、</text><text class="l" x="2132" y="387">様々な豊かなグラデーションを見て取れるようになる。</text><text class="l" x="2132" y="391.5">写真に「生」と「死」を与えられる。</text></g>
<g id="R8"><rect class="b" x="2162" y="467" width="44" height="12" rx="2"/><text x="2184" y="472">世界の不完全性を</text><text x="2184" y="477">"愛でる"。</text></g>
<g id="R9"><rect class="b" x="2168" y="625" width="32" height="4" rx="2"/><text x="2184" y="628.2">「一世界 多世一」</text></g>
<g id="R10"><rect class="b" x="2207" y="612" width="61" height="30" rx="2"/><text x="2237.5" y="617">「者(もの)」と「物(もの)」</text><text x="2237.5" y="623">日本人の古来の概念には、</text><text x="2237.5" y="627">物には全て神が宿る</text><text x="2237.5" y="631">という考え方がある。</text><text x="2237.5" y="635">ヒトもモノも、</text><text x="2237.5" y="639">同じ「もの」である。</text></g>
<g id="R11"><rect class="b" x="2148" y="636" width="52" height="32" rx="2"/><text class="l" x="2150" y="641">観念論的に言えば、</text><text class="l" x="2150" y="645">それは「完全なイデオロギー」</text><text class="l" x="2150" y="651">唯物論的に言えば、</text><text class="l" x="2150" y="655">それは「すべては物質である」</text><text class="l" x="2150" y="661">生物学的に言えば、</text><text class="l" x="2150" y="665">それは「物質の循環」</text></g>
<g id="R12"><rect class="b" x="1932" y="462" width="124" height="16" rx="2"/><text x="1994" y="468.5" style="font-size:5.2px">Materialを再定義する必要があるのは、</text><text x="1994" y="475" style="font-size:5.2px">意識と物質の関係を捉え直すためである。</text></g>
<g id="R13"><rect class="b" x="2072" y="526" width="72" height="24" rx="2"/><text x="2108" y="531">写真の物質性を見つめ、</text><text x="2108" y="536">フィジカルな写真を</text><text x="2108" y="541">もう一度考え直すことが</text><text x="2108" y="546">必要である。</text></g>
<g id="R14"><rect class="b" x="1833" y="478" width="80" height="24" rx="2"/><text x="1873" y="483">写真は化学変化を</text><text x="1873" y="488">繰り返しながら、</text><text x="1873" y="493">時間とともに変化する</text><text x="1873" y="498">物質である。</text></g>
<g id="R15"><rect class="b" x="1737" y="398" width="96" height="24" rx="2"/><text x="1785" y="403">フィルムの銀塩粒子、</text><text x="1785" y="408">印画紙のゼラチン層、</text><text x="1785" y="413">写真を構成するMaterialは、</text><text x="1785" y="418">やがて自然へと還る。</text></g>
<g id="R16"><rect class="b" x="1753" y="319" width="112" height="24" rx="2"/><text x="1809" y="324">写真は時間とともに変化する。</text><text x="1809" y="329">その変化を受け入れることで、</text><text x="1809" y="334">写真は"生きる"ものとなる。</text><text x="1809" y="339">写真の生と死をどう捉えるか。</text></g>
<g id="R17"><rect class="b" x="1594" y="319" width="96" height="16" rx="2"/><text x="1642" y="324">グラデーションの世界、</text><text x="1642" y="329">生と死のあいだにある写真。</text></g>
<g id="R18"><rect class="b" x="1610" y="383" width="143" height="31" rx="2"/><text class="l" x="1613" y="388">写真の表面に現れる色褪せ、シミ、傷。</text><text class="l" x="1613" y="394">それは写真が時間を生きた証であり、</text><text class="l" x="1613" y="400">写真の「死」ではなく「生」の痕跡である。</text><text class="l" x="1613" y="406">ヒトの皺や白髪と同じように、</text><text class="l" x="1613" y="412">写真もまた年を重ねていく。</text></g>
<g id="R19"><rect class="b" x="1594" y="526" width="128" height="32" rx="2"/><text class="l" x="1597" y="531">写真という物質と、ヒトという物質。</text><text class="l" x="1597" y="537">両者はともに「Material」からなり、</text><text class="l" x="1597" y="543">時間とともに変化し、やがて朽ちる。</text><text class="l" x="1597" y="549">その循環の中に写真の本質がある。</text><text class="l" x="1597" y="555">写真は「生」と「死」を内包する。</text></g>
<g id="R20"><rect class="b" x="1722" y="574" width="127" height="16" rx="2"/><text x="1785.5" y="579.5">物質としての写真を見つめ直す場、</text><text x="1785.5" y="585.5">写真を考え直す場としての暗室。</text></g>
<g id="R21"><rect class="b" x="2224" y="805" width="72" height="24" rx="2"/><text x="2260" y="810">写真はヒトの記憶であり、</text><text x="2260" y="815">世界の記憶でもある。</text><text x="2260" y="820">写真は世界と</text><text x="2260" y="825">ヒトをつなぐ。</text></g>
<g id="R22"><rect class="b" x="2200" y="956" width="80" height="16" rx="2"/><text x="2240" y="961.5">写真とMaterial、</text><text x="2240" y="967.5">物質の循環の中で。</text></g>
<g id="R23"><rect class="b" x="2212" y="1108" width="36" height="8" rx="2"/><text x="2230" y="1113.5">一即多多即一</text></g>
</g>

<g id="n_mat">
<g id="P1"><rect class="bk" x="1943" y="594" width="67" height="8" rx="1"/><text class="big" x="1976.5" y="600.6" style="font-size:7px">Physical Photography</text></g>
<g id="P2"><rect class="bk" x="1967" y="642" width="49" height="7" rx="1"/><text class="big" x="1991.5" y="648" style="font-size:6.5px">MATERIALISM</text></g>
<g id="P3"><rect class="bk" x="1833" y="642" width="104" height="7" rx="1"/><text class="big" x="1885" y="648" style="font-size:6px">ジルー・ダゲレオタイプ型暗室カメラ</text></g>
<g id="P4"><rect class="bl" x="2044" y="613" width="73" height="18" rx="3"/><text x="2080.5" y="618">パラドキシカルなフィジカル写真は、</text><text x="2080.5" y="622">いったい"ヒト"に</text><text x="2080.5" y="626">何を見出すのだろうか?</text><text x="2080.5" y="630">何か生成しうる未来とは?</text></g>
<g id="P5"><rect class="d" x="1988" y="614" width="43" height="15" rx="2"/><text x="2009.5" y="618.5">われわれがいうところの</text><text x="2009.5" y="622.5">Digital Photography と</text><text x="2009.5" y="626.5">いうものの意味</text></g>
<g id="P6"><rect class="b" x="1832" y="588" width="107" height="9" rx="2"/><text x="1885.5" y="592">「無」を出発として、「有」の過程が始まる。</text><text x="1885.5" y="596">「無」から無限を生む写真と「有」の物質・フィジカル写真。</text></g>
<g id="P7"><rect class="b" x="1862" y="603" width="46" height="13" rx="2"/><text x="1885" y="607">つまり、</text><text x="1885" y="611">「無」は「有」の対立の源泉</text><text x="1885" y="615">ともいえるのである。</text></g>
<g id="P8"><rect class="b" x="1767" y="614" width="64" height="12" rx="2"/><text x="1799" y="618">素材や道具を超え物質一つひとつに</text><text x="1799" y="621.5">宿る生命という写真の姿となりうる、</text><text x="1799" y="625">素材で物を作る。</text></g>
<g id="P9"><rect class="b" x="1778" y="648" width="22" height="4" rx="2"/><text x="1789" y="651.2">偶然性とは?</text></g>
<g id="P10"><rect class="b" x="1778" y="657" width="22" height="4" rx="2"/><text x="1789" y="660.2">必然性とは?</text></g>
<g id="P11"><rect class="b" x="1875" y="675" width="49" height="12" rx="2"/><text x="1899.5" y="680">世界各地の生命を</text><text x="1899.5" y="685">シンボライズした大樹</text></g>
<g id="P12"><rect class="b" x="1963" y="663" width="68" height="13" rx="2"/><text class="l" x="1965" y="667">「物・Materialism」とは</text><text class="l" x="1965" y="671">「素材」を意味する「モノ」の物質主義、</text><text class="l" x="1965" y="675">いわば、物と素材の新しい意味合い。</text></g>
<g id="P13"><rect class="b" x="2070" y="648" width="22" height="8" rx="2"/><text x="2081" y="651.5">Idealism</text><text x="2081" y="655">Materialism</text></g>
<g id="P14"><rect class="b" x="2089" y="673" width="60" height="12" rx="2"/><text x="2119" y="678">写真を考え直す場としての</text><text x="2119" y="683">暗室</text></g>
<g id="P15"><rect class="b" x="2017" y="550" width="56" height="20" rx="2"/><text class="l" x="2019" y="554.5">写真を撮るヒトとは</text><text class="l" x="2019" y="558.5">写真家をアーティストとし、</text><text class="l" x="2019" y="562.5">写真家と「物」として写真を</text><text class="l" x="2019" y="566.5">見る世界を作る。</text></g>
<g id="P16"><rect class="b" x="2017" y="593" width="56" height="8" rx="2"/><text x="2045" y="596.6">フィジカルな写真の質感、手触り、</text><text x="2045" y="600">物質としての写真。</text></g>
<g id="P17"><rect class="b" x="1795" y="540" width="78" height="15" rx="2"/><text class="l" x="1797" y="544.5">写真がフィルムとなったのは、</text><text class="l" x="1797" y="548.5">Materialの大循環、素材のリサイクル、</text><text class="l" x="1797" y="552.5">"無"に還る写真を保存する。</text></g>
<g id="P18"><rect class="b" x="1863" y="558" width="47" height="7" rx="2"/><text x="1886.5" y="562.5">写真の"つくり方"が鍵。</text></g>
<g id="P19"><rect class="b" x="1762" y="733" width="137" height="40" rx="2"/><text class="l" x="1764" y="737.5">「写」文字を語り合う人間の生命</text><text class="l" x="1764" y="745">写真は、光と影が生み出した「写し」の技術である。</text><text class="l" x="1764" y="752">それは、物質と光と時間の関係を語り合う。</text><text class="l" x="1764" y="759">物質は変化し、光は物質を変化させる。</text><text class="l" x="1764" y="766">写真は、時間の流れとともに変化していく。</text></g>
<g id="P20"><rect class="b" x="1860" y="878" width="110" height="70" rx="2"/><text class="l" x="1863" y="884">「万物は流転する」、</text><text class="l" x="1863" y="892">写真を構成する物質、写真の世界を</text><text class="l" x="1863" y="900">見つめ直すことで、写真の本質が見えてくる。</text><text class="l" x="1863" y="908">写真は物質の循環の一部である。</text><text class="l" x="1863" y="920">わたしたちは写真の中に、</text><text class="l" x="1863" y="928">生と死のグラデーションを見る。</text><text class="l" x="1863" y="940">それは、世界の理である。</text></g>
</g>

<g id="n_blue">
<g id="B1"><rect class="bl" x="1974" y="690" width="213" height="662"/>
<g style="font-size:4.1px">
<text class="l" x="1978" y="696">新しい世界が見えてくると、ヒトは新しい言葉をつくる。</text>
<text class="l" x="1978" y="704">ありとあらゆるものを分類し細かく切り分け、</text>
<text class="l" x="1978" y="712">人間がこの世界を消化しやすくするために生まれた知恵が、言語化という行為である。</text>
<text class="l" x="1978" y="719">然るにそこには、生み出した言葉の誤解をかぶる義務が生じる。</text>
<text class="l" x="1978" y="734">現在使用されている「物質主義(Materialism)」という言葉は、</text>
<text class="l" x="1978" y="742">再定義しなければならない時代が来たと、私は考えている。</text>
<text class="l" x="1978" y="748">所有の概念は、ヒトの脳から生まれてくる。</text>
<text class="l" x="1978" y="756">それなのにヒトは、「物質/モノ(Material)」という言葉を使用した。</text>
<text class="l" x="1978" y="763">つまり、対象である「物質/モノ(Material)」に責任をなすりつけた。</text>
<text class="l" x="1978" y="771">そこに垣間見えるわたしたち人間の傲慢さ。</text>
<text class="l" x="1978" y="778">「断捨離」といってモノを捨てていき、</text>
<text class="l" x="1978" y="786">「ミニマリズム」と称して、次から次へと、モノを排除していく。</text>
<text class="l" x="1978" y="794">地球環境問題に一向に光が見えないのも、「人間」と「環境」を切り分けて考えているからであろう。</text>
<text class="l" x="1978" y="802">そもそも地球もヒトも、はじまりは「Material」なのである。</text>
<text class="l" x="1978" y="810">それが、およそ138億年前、「過ぎゆく(時間と戯れあう)物」と、「過ぎゆく(時間と抗うもの)者」に分かれただけのこと。</text>
<text class="l" x="1978" y="820">その後者の属するヒトは、まもなく、ヒトのような脳を持つモノ(機械)との共存を余儀なくされる。</text>
<text class="l" x="1978" y="828">この「モノとヒトの境界を壊すテクノロジー」は、「ヒトとモノの境界を壊すテクノロジー」と表裏一体でもある。</text>
<text class="l" x="1978" y="835">つまり、不老と不死という夢想さえも示唆するかの世界が見えはじめてしまう。</text>
<text class="l" x="1978" y="842">ディストピアな世界が来てもおかしくない。</text>
<text class="l" x="1978" y="850">しかし、このディストピアな世界を、ヒトはユートピアな世界であると錯覚している。</text>
<text class="l" x="1978" y="858">死と時間を超え、物質的であり続けたいと望む私たちの"意識"が描く理想とホメオスタシスが、それを求めている。</text>
<text class="l" x="1978" y="867">しかし、理性という色眼鏡を少しズラしさえすれば、見えてくるものが、そこにはある。</text>
<text class="l" x="1978" y="874">理性の領域を脱すことさえ止めれば、</text>
<text class="l" x="1978" y="882">世界は、輝いていく。</text>
<text class="l" x="1978" y="890">この「理」というものは、</text>
<text class="l" x="1978" y="898">なにもヒトの心の働きから生じているのではない。</text>
<text class="l" x="1978" y="906">むしろ「物の世界」にこそ、大きな「理」は、存在しているのである。</text>
<text class="l" x="1978" y="916">かつて、不老と不死に対する欲望は、</text>
<text class="l" x="1978" y="924">世界各地のさまざまな賢者・哲学者たちによって"輪廻"という概念に昇華され、</text>
<text class="l" x="1978" y="932">そして偶像文明として広く世界でシンボル化されてきた。</text>
<text class="l" x="1978" y="942">金や銀を追い求めしこれらの世の非生物を生物として見なしてきたホモ・サピエンスの象徴的思考が具現した。</text>
<text class="l" x="1978" y="949">そして世界各地の哲学者や宗教者たちによって多種多様の説話がなされ</text>
<text class="l" x="1978" y="956">ヒト(生物)とモノ(非生物)を同根とする多種多様な思想哲学。</text>
<text class="l" x="1978" y="964">こうした古い形の"過去の世界"は、</text>
<text class="l" x="1978" y="972">実のところ、"ヒトの理性"が捉える現代の科学世界も認める、</text>
<text class="l" x="1978" y="980">この宇宙の法則なのである。</text>
<text class="l" x="1978" y="990">「万物はMaterial(素材)で構成され、合成と分解を繰り返す。」</text>
<text class="l" x="1978" y="1016">ヒトも例外ではなく、その身体を構成しているMaterialは分解されると自然界へ還元され、</text>
<text class="l" x="1978" y="1024">そしてそれは他のMaterialがまた別の何かを構成するMaterialとなっていく。</text>
<text class="l" x="1978" y="1031">こうしたMaterialの大循環が、宇宙誕生のその瞬間から永遠と続いてきた。</text>
<text class="l" x="1978" y="1038">つまり、2000年以上前にこの世界に生きていったプラトンの血と肉のMaterialが、</text>
<text class="l" x="1978" y="1046">現在のあなたの血と肉を構成していてもおかしくないのである。</text>
<text class="l" x="1978" y="1053">科学が語る、「一即多多即一」を認めたのである。</text>
<text class="l" x="1978" y="1072">しかし、</text>
<text class="l" x="1978" y="1079">「生・老・病・死」と、Materialの大循環がつくりだすこの世界を、</text>
<text class="l" x="1978" y="1086">ヒトの意識とホメオスタシスは"不完全な世界"と見なし、</text>
<text class="l" x="1978" y="1093">「生」と「死」の完全なる世界の構築を目指そうとする。</text>
<text class="l" x="1978" y="1101">その一方でわたしたちは、</text>
<text class="l" x="1978" y="1108">時間の流れに逆らわず、色あせ傷つき老いていった写真たちに、</text>
<text class="l" x="1978" y="1116">言葉では言い表すことのできない「美」を見い出す。</text>
<text class="l" x="1978" y="1123">意識のとらえる世界の不完全性を、</text>
<text class="l" x="1978" y="1131">あえて"愛でる"という美的感性も同時に備え持っているのではないか。</text>
<text class="l" x="1978" y="1154">新しい世界が見えてきた。</text>
<text class="l" x="1978" y="1161">次の世紀を俯瞰するこの21世紀のわたしたちにとって、</text>
<text class="l" x="1978" y="1168">この世界は、かつて恐ろしいほど近しく、そして美しい。</text>
<text class="l" x="1978" y="1176">いまこそ「MATERIALISM(物質主義)」という言葉を書き換えるべきである。</text>
<text class="l" x="1978" y="1183">不老と不死の欲望が語る「生」と「死」だけの二項の世界の扉に鍵を掛け、</text>
<text class="l" x="1978" y="1191">「人間」と「環境」を切り分けるのも、終わりにしよう。</text>
<text class="l" x="1978" y="1202">いったいいつになったら、</text>
<text class="l" x="1978" y="1209">わたしたちは次の世代のためのアクションを取るのだろうか。</text>
<text class="l" x="1978" y="1221">しかし、そんな動画はどこでも撮られている。</text>
<text class="l" x="1978" y="1232">わたしは既に、最も近くにあった写真にその動画を見出すことができた。</text>
<text class="l" x="1978" y="1240">時間の流れに逆らわず世界に融けることを体現する「Physical Photography」を以て、</text>
<text class="l" x="1978" y="1247">わたしはアクションを取る。</text>
<text class="l" x="1978" y="1254">フィジカルな写真を放棄できるのに誰もみえない写真群という"見識の場"に身を置き、</text>
<text class="l" x="1978" y="1262">ヒトとフィジカル写真を併立させていく。</text>
<text class="l" x="1978" y="1277">「Material」という言葉は、ヒトとモノ、人間と環境を結びつける大切な言葉であり、</text>
<text class="l" x="1978" y="1284">「MATERIALISM」という言葉はアップデートされなければならない。</text>
<text class="l" x="1978" y="1302">人間精神の驕りを捨てよう。</text>
<text class="l" x="1978" y="1309">人間身体の脆さを受け止めよう。</text>
<text class="l" x="1978" y="1321">そして、その脆さは環境という摂理に包含され、</text>
<text class="l" x="1978" y="1328">豊かな自然という限りある美しい世界に、足を立てて歩んでいく。</text>
<text class="l" x="1978" y="1339">"日本仏教史上最高の哲学者"道元も、次の言葉を残している。</text>
<text class="l" x="1978" y="1347">「わたしたちの心は山河大地、すべての自然の中にある。」と―</text>
</g></g>
</g>

<g id="n_izutsu">
<g id="I1"><rect class="bl" x="1357" y="664" width="158" height="53" rx="2"/><text x="1436" y="669">井筒俊彦（1914〜1993 言語哲学者/日本）</text><text x="1436" y="676">"東洋哲学的な世界観は、</text><text x="1436" y="680">その第一段階で、我々の経験世界のいわゆる「現実」の本質的性、恒常性を解体し、</text><text x="1436" y="684">それをしばしば「夢」「幻」という言葉で表現する。</text><text x="1436" y="688">かの有名な「荘周胡蝶の夢」のシュルレ、大乗仏教にもそもそもよく出現するが、</text><text x="1436" y="692">ヌーフィズムの哲学者イブン・アラビーの「かの世の夢」論も、</text><text x="1436" y="696">またヴェーダーンタ哲学のシャンカラの「マーヤー」論も。</text><text x="1436" y="702">"コスモスの存立性のみを持ちながら、しかもその殻界の枠から内的に解放されている。</text><text x="1436" y="706">「無」と「有」とのこのパラドクシカルな立場のうちに成立する</text><text x="1436" y="710">「解体されたコスモス」(既存の縛を解かれた自由空間)という概念のもとに、</text><text x="1436" y="714">我々はアンチコスモスの主たる東洋哲学を見出す。"</text></g>
<g id="I2"><rect class="b" x="1528" y="635" width="72" height="9" rx="2"/><text x="1564" y="639">東洋哲学の主流は、</text><text x="1564" y="643">伝統的なアンチコスモスの立場にある。</text></g>
<g id="I3"><rect class="b" x="1528" y="682" width="72" height="20" rx="2"/><text x="1564" y="686.5">「空即是色」とは、</text><text x="1564" y="690">あらゆる存在は本質を持たない、</text><text x="1564" y="693.5">全ては関係性の中、変化する。</text><text x="1564" y="697">写真を見る時の「無」と「有」、</text><text x="1564" y="700.5">全ての存在の相互依存の関係</text></g>
<g id="I4"><rect class="b" x="1495" y="722" width="100" height="11" rx="2"/><text x="1545" y="726.5">ヴェーダーンタ哲学のシャンカラの「マーヤー」論は、</text><text x="1545" y="730.5">現象世界の一切を幻と見る。その意味で「夢」である。</text></g>
<g id="I5"><rect class="b" x="1380" y="737" width="93" height="15" rx="2"/><text x="1426.5" y="741.5">イブン・アラビー（1165〜1240 神秘主義哲学者）</text><text x="1426.5" y="745">"この世の全ては夢であり、</text><text x="1426.5" y="748.5">夢は解釈されなければならない。"</text></g>
<g id="I6"><rect class="b" x="1403" y="758" width="65" height="6" rx="2"/><text x="1435.5" y="762">荘子（紀元前369年頃〜 思想家/中国）</text></g>
<g id="I7"><rect class="b" x="1397" y="772" width="77" height="11" rx="2"/><text x="1435.5" y="776">"胡蝶の夢"</text><text x="1435.5" y="780">夢と現実の区別がつかない世界</text></g>
<g id="I8"><rect class="b" x="1480" y="772" width="98" height="9" rx="2"/><text x="1529" y="776">ヌーフィズムの哲学は、現実世界は実在的なものではなく、</text><text x="1529" y="780">その背後にある真の実在を見るべきであると説く。</text></g>
<g id="I9"><rect class="b" x="1553" y="738" width="147" height="27" rx="2"/><text class="l" x="1556" y="742.5">東洋哲学の流れにおいて、</text><text class="l" x="1556" y="746.5">「色」と「空」を繋げる一連の学びが「色即是空」という表現に集約される。</text><text class="l" x="1556" y="752">その変化と不変の両者の中に生きる写真の美をどう捉えるべきか。</text><text class="l" x="1556" y="756">「一即多」という東洋的な思想のもとで、</text><text class="l" x="1556" y="762">写真の「色」と「空」について、写真の意味を捉える。</text></g>
<g id="I10"><rect class="b" x="1617" y="670" width="133" height="43" rx="2"/><text class="l" x="1620" y="675">「無常」の美意識とは、それは写真が見えてくる、と言えば当然のことなのか。</text><text class="l" x="1620" y="682">ヒトにとって「無常」とは、ものが流れゆく姿であり、</text><text class="l" x="1620" y="689">しかしそれは、わたしたちが変化を受け入れること。</text><text class="l" x="1620" y="696">最後に、この世界を同時に存在する写真。</text><text class="l" x="1620" y="703">写真が時間の中で変化していくことを美しいと感じる。</text><text class="l" x="1620" y="710">日本人の美意識の根底には、無常観がある。</text></g>
<g id="I11"><rect class="b" x="1625" y="629" width="125" height="24" rx="2"/><text class="l" x="1627" y="634">物と、心と、身体と、そして写真の関係はどうなのか。</text><text class="l" x="1627" y="639">日本人の「もの」の思想、「もののあはれ」、</text><text class="l" x="1627" y="644">「もの」を通じて「こと」を見る、</text><text class="l" x="1627" y="649">物は心と結びつき、「物の美」の感覚が生まれる。</text></g>
</g>

<g id="n_mag">
<g id="G_m1"><rect class="mg" x="1618" y="781" width="56" height="5" rx="2.5"/><text class="w" x="1646" y="784.7">ヒトの意識が作る世界の誕生</text></g>
<g id="G_m2"><rect class="mg" x="1484" y="804" width="53" height="5" rx="2.5"/><text class="w" x="1510.5" y="807.7">写真の生と死と時間</text></g>
<g id="G_m3"><rect class="mg" x="1543" y="804" width="55" height="5" rx="2.5"/><text class="w" x="1570.5" y="807.7">写真に触れるヒトの身体</text></g>
<g id="G_m4"><rect class="mg" x="1398" y="812" width="67" height="10" rx="2.5"/><text class="w" x="1431.5" y="816">写真を生み出すアイデンティティ</text><text class="w" x="1431.5" y="820.5">記憶、時間、ヒト、モノとの関係</text></g>
<g id="G_m5"><rect class="mg" x="1468" y="812" width="70" height="12" rx="2.5"/><text class="w" x="1503" y="816.5">ヒトの知覚するモノの写真の世界</text><text class="w" x="1503" y="821">身体性と時間、写真の関係を問う</text></g>
<g id="G_m6"><rect class="mg" x="1582" y="815" width="31" height="4" rx="2"/><text class="w" x="1597.5" y="818.2">写真という物質</text></g>
<g id="G_m7"><rect class="mg" x="1700" y="813" width="50" height="9" rx="2.5"/><text class="w" x="1725" y="817">写真と時間の関係性</text><text class="w" x="1725" y="821">物質の変化と写真</text></g>
<g id="G_m8"><rect class="mg" x="1476" y="828" width="67" height="10" rx="2.5"/><text class="w" x="1509.5" y="832">写真の"生"とは</text><text class="w" x="1509.5" y="836.5">写真が時間の中に生き続けること</text></g>
<g id="G_m9"><rect class="mg" x="1403" y="834" width="64" height="10" rx="2.5"/><text class="w" x="1435" y="838">"かたち"の持つ意味</text><text class="w" x="1435" y="842.5">物質の存在と記憶の構造</text></g>
<g id="G_m10"><rect class="mg" x="1482" y="848" width="30" height="4" rx="2"/><text class="w" x="1497" y="851.2">記憶の構造化</text></g>
<g id="G_m11"><rect class="mg" x="1531" y="841" width="32" height="8" rx="2.5"/><text class="w" x="1547" y="844.5">写真の"時間"</text><text class="w" x="1547" y="848">写真の"物質"</text></g>
<g id="G_m12"><rect class="mg" x="1589" y="843" width="15" height="5" rx="2"/><text class="w" x="1596.5" y="846.6">物質性</text></g>
<g id="G_m13"><rect class="mg" x="1622" y="843" width="49" height="5" rx="2"/><text class="w" x="1646.5" y="846.6">写真の変化を見ること、触れること</text></g>
<g id="G_m14"><rect class="mg" x="1688" y="844" width="19" height="4" rx="2"/><text class="w" x="1697.5" y="847.2">写真の変化</text></g>
<g id="G_m15"><rect class="mg" x="1733" y="843" width="17" height="5" rx="2"/><text class="w" x="1741.5" y="846.6">写真の劣化</text></g>
<g id="G_m16"><rect class="mg" x="1466" y="859" width="27" height="4" rx="2"/><text class="w" x="1479.5" y="862.2">記憶の物質化</text></g>
<g id="G_m17"><rect class="mg" x="1547" y="852" width="42" height="7" rx="2.5"/><text class="w" x="1568" y="856.6">写真とヒトの記憶の関係</text></g>
<g id="G_m18"><rect class="mg" x="1525" y="867" width="22" height="3" rx="1.5"/><text class="w" x="1536" y="869.8" style="font-size:3px">写真の時間</text></g>
<g id="G_m19"><rect class="mg" x="1560" y="864" width="75" height="6" rx="2.5"/><text class="w" x="1597.5" y="868.2">写真と物質、時間と記憶、写真の本質を問う</text></g>
</g>

<g id="n_fill">
<g id="F1"><rect class="b" x="399" y="311" width="120" height="10" rx="2"/><text x="459" y="315">自伝的記憶を持つヒトは、過去の記憶から自分を形成する。</text><text x="459" y="319.5">写真はその記憶を外部に保存する装置である。</text></g>
<g id="F2"><rect class="b" x="223" y="332" width="34" height="5" rx="2"/><text x="240" y="335.6">アンチエイジング</text></g>
<g id="F3"><rect class="b" x="478" y="335" width="55" height="8" rx="2"/><text x="505.5" y="338.5">ヒトは死を恐れ、</text><text x="505.5" y="342">不老不死を求める。</text></g>
<g id="F4"><rect class="b" x="383" y="411" width="75" height="8" rx="2"/><text x="420.5" y="414.5">記憶を失うことへの恐れ、</text><text x="420.5" y="418">それは自己を失うこと。</text></g>
<g id="F5"><rect class="b" x="523" y="383" width="40" height="8" rx="2"/><text x="543" y="386.5">写真による</text><text x="543" y="390">記憶の補完</text></g>
<g id="F6"><rect class="b" x="239" y="418" width="40" height="5" rx="2"/><text x="259" y="421.6">忘却と記憶</text></g>
<g id="F7"><rect class="b" x="271" y="462" width="70" height="8" rx="2"/><text x="306" y="465.5">家族写真、肖像写真、</text><text x="306" y="469">記念写真という文化</text></g>
<g id="F8"><rect class="b" x="367" y="478" width="100" height="8" rx="2"/><text x="417" y="481.5">写真は、ヒトが生きた証を残すもの。</text><text x="417" y="485">死者の写真、遺影という文化。</text></g>
<g id="F9"><rect class="b" x="478" y="534" width="45" height="8" rx="2"/><text x="500.5" y="537.5">遺影と</text><text x="500.5" y="541">死者の記憶</text></g>
<g id="F10"><rect class="b" x="287" y="550" width="60" height="12" rx="2"/><text x="317" y="554">写真の中の人物は、</text><text x="317" y="557.7">永遠に年をとらない。</text><text x="317" y="561.3">時間が止まった世界。</text></g>
<g id="F11"><rect class="b" x="367" y="606" width="75" height="8" rx="2"/><text x="404.5" y="609.5">ポストモーテム・フォトグラフィ</text><text x="404.5" y="613">（死後写真）</text></g>
<g id="F12"><rect class="b" x="223" y="630" width="30" height="12" rx="2"/><text x="238" y="634">19世紀の</text><text x="238" y="637.7">写真文化</text><text x="238" y="641.3">と死</text></g>
<g id="F13"><rect class="b" x="239" y="670" width="75" height="16" rx="2"/><text x="276.5" y="674">写真は、死者を</text><text x="276.5" y="677.7">生きているかのように</text><text x="276.5" y="681.4">写し出す。</text><text x="276.5" y="685">生と死の境界を曖昧にする。</text></g>
<g id="F14"><rect class="b" x="430" y="662" width="60" height="16" rx="2"/><text x="460" y="666">ロラン・バルト</text><text x="460" y="669.7">「明るい部屋」</text><text x="460" y="673.4">"それはかつてあった"</text><text x="460" y="677">写真のノエマ</text></g>
<g id="F15"><rect class="b" x="287" y="725" width="100" height="12" rx="2"/><text x="337" y="729">写真は、過去の現実を写し出す。</text><text x="337" y="732.7">写真を見ることは、死を見ること。</text><text x="337" y="736.3">プンクトゥムとストゥディウム</text></g>
<g id="F16"><rect class="b" x="510" y="749" width="70" height="12" rx="2"/><text x="545" y="753">写真を見る者の</text><text x="545" y="756.7">記憶が呼び覚まされる。</text><text x="545" y="760.3">写真の力。</text></g>
<g id="F17"><rect class="b" x="638" y="685" width="90" height="16" rx="2"/><text x="683" y="689">写真は現実の痕跡（インデックス）である。</text><text x="683" y="692.7">光が物質に残した跡。</text><text x="683" y="696.4">写真の物質性と記憶性。</text><text x="683" y="700">写真はモノであり、記憶である。</text></g>
<g id="F18"><rect class="b" x="733" y="606" width="80" height="12" rx="2"/><text x="773" y="610">写真の誕生と</text><text x="773" y="613.7">写真の歴史、</text><text x="773" y="617.3">ニエプス、ダゲール、タルボット</text></g>
<g id="F19"><rect class="b" x="837" y="542" width="95" height="12" rx="2"/><text x="884.5" y="546">写真は光の化学反応によって</text><text x="884.5" y="549.7">生まれる。銀塩写真は、</text><text x="884.5" y="553.3">化学変化を続ける物質である。</text></g>
<g id="F20"><rect class="b" x="893" y="478" width="60" height="12" rx="2"/><text x="923" y="482">写真の中の時間、</text><text x="923" y="485.7">写真の外の時間、</text><text x="923" y="489.3">ふたつの時間。</text></g>
<g id="F21"><rect class="b" x="956" y="398" width="65" height="12" rx="2"/><text x="988.5" y="402">写真が撮られた瞬間、</text><text x="988.5" y="405.7">その瞬間は過去となる。</text><text x="988.5" y="409.3">写真は常に過去である。</text></g>
<g id="F22"><rect class="b" x="893" y="330" width="60" height="16" rx="2"/><text x="923" y="334">写真の中の世界は</text><text x="923" y="337.7">時間が止まっている。</text><text x="923" y="341.4">しかし写真そのものは</text><text x="923" y="345">時間とともに変化する。</text></g>
<g id="F23"><rect class="b" x="956" y="685" width="130" height="26" rx="2"/><text class="l" x="959" y="689.5">写真の発明以来、ヒトは写真を</text><text class="l" x="959" y="693.5">記録として、記憶として、芸術として扱ってきた。</text><text class="l" x="959" y="697.5">しかし写真の本質は、物質としての写真にある。</text><text class="l" x="959" y="701.5">写真は時間とともに変化し、朽ちていく。</text><text class="l" x="959" y="705.5">その変化の中に、写真の生がある。</text><text class="l" x="959" y="709.5">写真は生きている。</text></g>
<g id="F24"><rect class="b" x="1020" y="765" width="90" height="16" rx="2"/><text x="1065" y="769">デジタル写真は劣化しない。</text><text x="1065" y="772.7">しかしデジタルデータは、</text><text x="1065" y="776.4">ある日突然消えてしまう。</text><text x="1065" y="780">生も死もない写真。</text></g>
<g id="F25"><rect class="b" x="606" y="335" width="80" height="12" rx="2"/><text x="646" y="339">ヒトの意識は、変化を嫌い、</text><text x="646" y="342.7">同じであり続けようとする。</text><text x="646" y="346.3">それが情報化である。</text></g>
<g id="F26"><rect class="b" x="717" y="398" width="85" height="8" rx="2"/><text x="759.5" y="401.5">「情報」は変化しない。</text><text x="759.5" y="405">「ヒト」は変化し続ける。</text></g>
<g id="F27"><rect class="b" x="669" y="510" width="60" height="12" rx="2"/><text x="699" y="514">写真は情報か、</text><text x="699" y="517.7">それともモノか。</text><text x="699" y="521.3">写真の二重性。</text></g>
<g id="F28"><rect class="b" x="829" y="654" width="80" height="8" rx="2"/><text x="869" y="657.5">写真の物質性を取り戻す、</text><text x="869" y="661">フィジカル・フォトグラフィ</text></g>
<g id="F29"><rect class="b" x="159" y="558" width="40" height="8" rx="2"/><text x="179" y="561.5">ヒトの寿命と</text><text x="179" y="565">写真の寿命</text></g>
<g id="F30"><rect class="b" x="143" y="478" width="40" height="8" rx="2"/><text x="163" y="481.5">個の死と</text><text x="163" y="485">種の存続</text></g>
<g id="F31"><rect class="b" x="367" y="829" width="75" height="8" rx="2"/><text x="404.5" y="832.5">写真と死、写真と生、</text><text x="404.5" y="836">写真の両義性</text></g>
<g id="F32"><rect class="b" x="191" y="797" width="55" height="8" rx="2"/><text x="218.5" y="800.5">死を想え</text><text x="218.5" y="804">（メメント・モリ）</text></g>
</g>

<g id="n_bottom">
<g id="Bb1"><rect class="b" x="284" y="861" width="43" height="10" rx="2"/><text x="305.5" y="865">ジルー・ダゲレオ</text><text x="305.5" y="869.2">タイプ（1839）</text></g>
<g id="Bb2"><rect class="b" x="363" y="870" width="170" height="13" rx="2"/><text x="448" y="874">ダゲレオタイプは、世界最初の実用的写真技法である。</text><text x="448" y="878">銀板の上に像を定着させる、一点ものの写真。</text><text x="448" y="882">複製ができない唯一無二の写真。</text></g>
<g id="Bb3"><rect class="b" x="569" y="897" width="140" height="5" rx="2"/><text x="639" y="900.6">カロタイプ（タルボット）の発明により、写真の複製が可能となる。</text></g>
<g id="Bb4"><rect class="b" x="744" y="897" width="120" height="5" rx="2"/><text x="804" y="900.6">写真の大衆化、コダックの登場</text></g>
<g id="Bb5"><rect class="b" x="912" y="861" width="180" height="18" rx="2"/><text x="1002" y="865.5">写真の歴史は、写真の物質性の歴史でもある。</text><text x="1002" y="869.5">銀板、紙、ガラス、フィルム、そしてデジタル。</text><text x="1002" y="873.5">写真の支持体は時代とともに変化してきた。</text><text x="1002" y="877.5">写真の物質性が失われていく過程。</text></g>
<g id="Bb6"><rect class="b" x="837" y="921" width="170" height="5" rx="2"/><text x="922" y="924.6">写真のデジタル化により、写真は物質性を失った。</text></g>
<g id="Bb7"><rect class="b" x="845" y="937" width="150" height="5" rx="2"/><text x="920" y="940.6">写真はデータとなり、画像となった。</text></g>
<g id="Bb8"><rect class="b" x="104" y="931" width="50" height="12" rx="2"/><text x="129" y="935">多くの生物は</text><text x="129" y="938.7">記憶を</text><text x="129" y="942.3">持たない。</text></g>
<g id="Bb9"><rect class="b" x="191" y="953" width="30" height="5" rx="2"/><text x="206" y="956.6">記憶</text></g>
<g id="Bb10"><rect class="b" x="236" y="953" width="70" height="5" rx="2"/><text x="271" y="956.6">記憶とアイデンティティ</text></g>
<g id="Bb11"><rect class="b" x="328" y="936" width="40" height="8" rx="2"/><text x="348" y="939.5">ヒトの</text><text x="348" y="943">記憶の特性</text></g>
<g id="Bb12"><rect class="b" x="391" y="931" width="160" height="5" rx="2"/><text x="471" y="934.6">ヒトの記憶は、常に書き換えられ、変化し続けるものである。</text></g>
<g id="Bb13"><rect class="b" x="590" y="956" width="50" height="5" rx="2"/><text x="615" y="959.6">記憶の再構成</text></g>
<g id="Bb14"><rect class="b" x="183" y="995" width="40" height="5" rx="2"/><text x="203" y="998.6">偽りの記憶</text></g>
<g id="Bb15"><rect class="b" x="247" y="1004" width="60" height="5" rx="2"/><text x="277" y="1007.6">記憶は曖昧なもの</text></g>
<g id="Bb16"><rect class="b" x="399" y="1004" width="150" height="5" rx="2"/><text x="474" y="1007.6">写真は、曖昧な記憶を補い、過去を確かなものにする。</text></g>
<g id="Bb17"><rect class="b" x="569" y="1001" width="120" height="5" rx="2"/><text x="629" y="1004.6">しかし写真もまた、記憶を書き換える。</text></g>
<g id="Bb18"><rect class="b" x="367" y="1033" width="60" height="5" rx="2"/><text x="397" y="1036.6">写真と記憶の関係</text></g>
<g id="Bb19"><rect class="b" x="104" y="1052" width="40" height="5" rx="2"/><text x="124" y="1055.6">進化と記憶</text></g>
<g id="Bb20"><rect class="b" x="175" y="1084" width="25" height="5" rx="2"/><text x="187.5" y="1087.6">遺伝子</text></g>
<g id="Bb21"><rect class="b" x="287" y="1097" width="25" height="5" rx="2"/><text x="299.5" y="1100.6">ミーム</text></g>
<g id="Bb22"><rect class="b" x="335" y="1065" width="150" height="5" rx="2"/><text x="410" y="1068.6">ヒトは遺伝子以外の方法で、情報を次の世代に伝える。</text></g>
<g id="Bb23"><rect class="b" x="558" y="1060" width="110" height="5" rx="2"/><text x="613" y="1063.6">言語、文字、絵画、そして写真。</text></g>
<g id="Bb24"><rect class="b" x="717" y="1052" width="90" height="5" rx="2"/><text x="762" y="1055.6">外部記憶装置としての写真</text></g>
<g id="Bb25"><rect class="b" x="383" y="1111" width="110" height="5" rx="2"/><text x="438" y="1114.6">文化的遺伝子（ミーム）と写真</text></g>
<g id="Bb26"><rect class="b" x="542" y="1100" width="140" height="5" rx="2"/><text x="612" y="1103.6">写真は、ヒトの記憶を世代を超えて伝える。</text></g>
<g id="Bb27"><rect class="b" x="725" y="1109" width="50" height="5" rx="2"/><text x="750" y="1112.6">記憶の継承</text></g>
<g id="Bb28"><rect class="b" x="893" y="1100" width="110" height="5" rx="2"/><text x="948" y="1103.6">写真の中に残された先人たちの記憶</text></g>
<g id="Bb29"><rect class="b" x="1148" y="1065" width="180" height="9" rx="2"/><text x="1238" y="1068.7">写真は、時を超えて、ヒトとヒトを結びつける。</text><text x="1238" y="1072.7">写真は、過去と現在、未来を結びつける。</text></g>
<g id="Bb30"><rect class="b" x="1156" y="1004" width="170" height="13" rx="2"/><text x="1241" y="1008">写真の中に残されたヒトの記憶は、</text><text x="1241" y="1012">写真を見る者の記憶と結びつき、</text><text x="1241" y="1016">新たな記憶を生み出す。</text></g>
<g id="Bb31"><rect class="b" x="1020" y="929" width="100" height="8" rx="2"/><text x="1070" y="932.5">写真とヒトの関係、</text><text x="1070" y="936">写真を見るということ。</text></g>
<g id="Bb32"><rect class="b" x="1020" y="991" width="80" height="5" rx="2"/><text x="1060" y="994.6">写真とフィジカル性質</text></g>
<g id="Bb33"><rect class="b" x="893" y="1023" width="120" height="13" rx="2"/><text x="953" y="1027">写真の物質性は、</text><text x="953" y="1031">写真を見る者の身体と結びつく。</text><text x="953" y="1035">触れること、手にとること。</text></g>
<g id="Bb34"><rect class="b" x="1371" y="925" width="120" height="13" rx="2"/><text x="1431" y="929">フィジカルな写真は、</text><text x="1431" y="933">ヒトの身体と同じように、</text><text x="1431" y="937">時間とともに変化していく。</text></g>
<g id="Bb35"><rect class="b" x="1403" y="996" width="150" height="17" rx="2"/><text x="1478" y="1000">写真の本質は、物質としての写真にある。</text><text x="1478" y="1004">写真はMaterialであり、</text><text x="1478" y="1008">Materialの大循環の一部である。</text><text x="1478" y="1012">写真もヒトも、同じMaterialからなる。</text></g>
<g id="Bb36"><rect class="b" x="1650" y="956" width="130" height="9" rx="2"/><text x="1715" y="959.7">フィジカル・フォトグラフィの実践、</text><text x="1715" y="963.7">写真の生と死を見つめる。</text></g>
<g id="Bb37"><rect class="b" x="1052" y="1100" width="45" height="5" rx="2"/><text x="1074.5" y="1103.6">記憶と写真</text></g>
<g id="Bb38"><rect class="b" x="1387" y="1100" width="110" height="5" rx="2"/><text x="1442" y="1103.6">写真は、ヒトの記憶の器である。</text></g>
</g>

<g id="title"><text x="1283" y="1160" style="font-family:'Liberation Serif','Noto Sans CJK JP',serif;font-size:22px;fill:#222">[ 2012/02 〜 2019/12 updated ]</text></g>
</svg>
